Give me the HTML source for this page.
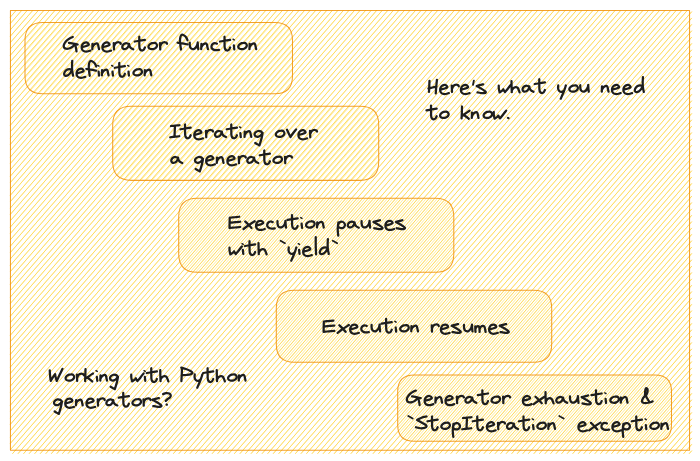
<!DOCTYPE html>
<html><head><meta charset="utf-8"><title>Python generators</title>
<style>
html,body{margin:0;padding:0;background:#fff;}
body{width:700px;height:461px;position:relative;overflow:hidden;font-family:"Liberation Sans",sans-serif;}
</style></head><body>
<svg width="700" height="461" viewBox="0 0 700 461" style="position:absolute;left:0;top:0">
<defs>
<clipPath id="c0"><path d="M42.80 22.50L274.70 22.50Q292.50 22.50 292.50 40.30L292.50 75.90Q292.50 93.70 274.70 93.70L42.80 93.70Q25.00 93.70 25.00 75.90L25.00 40.30Q25.00 22.50 42.80 22.50Z"/></clipPath>
<clipPath id="c1"><path d="M131.21 106.30L360.19 106.30Q378.70 106.30 378.70 124.81L378.70 161.84Q378.70 180.35 360.19 180.35L131.21 180.35Q112.70 180.35 112.70 161.84L112.70 124.81Q112.70 106.30 131.21 106.30Z"/></clipPath>
<clipPath id="c2"><path d="M197.20 198.30L435.30 198.30Q453.80 198.30 453.80 216.80L453.80 253.80Q453.80 272.30 435.30 272.30L197.20 272.30Q178.70 272.30 178.70 253.80L178.70 216.80Q178.70 198.30 197.20 198.30Z"/></clipPath>
<clipPath id="c3"><path d="M294.30 290.30L533.70 290.30Q551.70 290.30 551.70 308.30L551.70 344.30Q551.70 362.30 533.70 362.30L294.30 362.30Q276.30 362.30 276.30 344.30L276.30 308.30Q276.30 290.30 294.30 290.30Z"/></clipPath>
<clipPath id="c4"><path d="M414.25 375.00L654.95 375.00Q671.50 375.00 671.50 391.55L671.50 424.65Q671.50 441.20 654.95 441.20L414.25 441.20Q397.70 441.20 397.70 424.65L397.70 391.55Q397.70 375.00 414.25 375.00Z"/></clipPath>
</defs>
<path d="M10.45 10.61L10.59 10.45M10.45 16.98L16.14 10.45M10.45 23.34L21.69 10.45M10.45 29.70L27.23 10.45M10.45 36.07L32.78 10.45M10.45 42.43L38.33 10.45M10.45 48.79L43.87 10.45M10.45 55.15L49.42 10.45M10.45 61.52L54.97 10.45M10.45 67.88L60.51 10.45M10.45 74.24L66.06 10.45M10.45 80.60L71.61 10.45M10.45 86.97L77.15 10.45M10.45 93.33L82.70 10.45M10.45 99.69L88.25 10.45M10.45 106.05L93.79 10.45M10.45 112.42L99.34 10.45M10.45 118.78L104.89 10.45M10.45 125.14L110.43 10.45M10.45 131.51L115.98 10.45M10.45 137.87L121.53 10.45M10.45 144.23L127.07 10.45M10.45 150.59L132.62 10.45M10.45 156.96L138.17 10.45M10.45 163.32L143.71 10.45M10.45 169.68L149.26 10.45M10.45 176.04L154.81 10.45M10.45 182.41L160.35 10.45M10.45 188.77L165.90 10.45M10.45 195.13L171.45 10.45M10.45 201.50L176.99 10.45M10.45 207.86L182.54 10.45M10.45 214.22L188.09 10.45M10.45 220.58L193.63 10.45M10.45 226.95L199.18 10.45M10.45 233.31L204.72 10.45M10.45 239.67L210.27 10.45M10.45 246.03L215.82 10.45M10.45 252.40L221.36 10.45M10.45 258.76L226.91 10.45M10.45 265.12L232.46 10.45M10.45 271.48L238.00 10.45M10.45 277.85L243.55 10.45M10.45 284.21L249.10 10.45M10.45 290.57L254.64 10.45M10.45 296.94L260.19 10.45M10.45 303.30L265.74 10.45M10.45 309.66L271.28 10.45M10.45 316.02L276.83 10.45M10.45 322.39L282.38 10.45M10.45 328.75L287.92 10.45M10.45 335.11L293.47 10.45M10.45 341.47L299.02 10.45M10.45 347.84L304.56 10.45M10.45 354.20L310.11 10.45M10.45 360.56L315.66 10.45M10.45 366.92L321.20 10.45M10.45 373.29L326.75 10.45M10.45 379.65L332.30 10.45M10.45 386.01L337.84 10.45M10.45 392.38L343.39 10.45M10.45 398.74L348.94 10.45M10.45 405.10L354.48 10.45M10.45 411.46L360.03 10.45M10.45 417.83L365.58 10.45M10.45 424.19L371.12 10.45M10.45 430.55L376.67 10.45M10.45 436.91L382.22 10.45M10.45 443.28L387.76 10.45M10.45 449.64L393.31 10.45M12.68 453.45L398.86 10.45M18.22 453.45L404.40 10.45M23.77 453.45L409.95 10.45M29.32 453.45L415.50 10.45M34.86 453.45L421.04 10.45M40.41 453.45L426.59 10.45M45.95 453.45L432.14 10.45M51.50 453.45L437.68 10.45M57.05 453.45L443.23 10.45M62.59 453.45L448.78 10.45M68.14 453.45L454.32 10.45M73.69 453.45L459.87 10.45M79.23 453.45L465.42 10.45M84.78 453.45L470.96 10.45M90.33 453.45L476.51 10.45M95.87 453.45L482.06 10.45M101.42 453.45L487.60 10.45M106.97 453.45L493.15 10.45M112.51 453.45L498.70 10.45M118.06 453.45L504.24 10.45M123.61 453.45L509.79 10.45M129.15 453.45L515.34 10.45M134.70 453.45L520.88 10.45M140.25 453.45L526.43 10.45M145.79 453.45L531.98 10.45M151.34 453.45L537.52 10.45M156.89 453.45L543.07 10.45M162.43 453.45L548.62 10.45M167.98 453.45L554.16 10.45M173.53 453.45L559.71 10.45M179.07 453.45L565.26 10.45M184.62 453.45L570.80 10.45M190.17 453.45L576.35 10.45M195.71 453.45L581.89 10.45M201.26 453.45L587.44 10.45M206.81 453.45L592.99 10.45M212.35 453.45L598.53 10.45M217.90 453.45L604.08 10.45M223.45 453.45L609.63 10.45M228.99 453.45L615.17 10.45M234.54 453.45L620.72 10.45M240.09 453.45L626.27 10.45M245.63 453.45L631.81 10.45M251.18 453.45L637.36 10.45M256.73 453.45L642.91 10.45M262.27 453.45L648.45 10.45M267.82 453.45L654.00 10.45M273.37 453.45L659.55 10.45M278.91 453.45L665.09 10.45M284.46 453.45L670.64 10.45M290.01 453.45L676.19 10.45M295.55 453.45L681.73 10.45M301.10 453.45L687.28 10.45M306.65 453.45L691.55 11.92M312.19 453.45L691.55 18.28M317.74 453.45L691.55 24.64M323.29 453.45L691.55 31.00M328.83 453.45L691.55 37.37M334.38 453.45L691.55 43.73M339.93 453.45L691.55 50.09M345.47 453.45L691.55 56.45M351.02 453.45L691.55 62.82M356.57 453.45L691.55 69.18M362.11 453.45L691.55 75.54M367.66 453.45L691.55 81.90M373.21 453.45L691.55 88.27M378.75 453.45L691.55 94.63M384.30 453.45L691.55 100.99M389.85 453.45L691.55 107.36M395.39 453.45L691.55 113.72M400.94 453.45L691.55 120.08M406.49 453.45L691.55 126.44M412.03 453.45L691.55 132.81M417.58 453.45L691.55 139.17M423.12 453.45L691.55 145.53M428.67 453.45L691.55 151.89M434.22 453.45L691.55 158.26M439.76 453.45L691.55 164.62M445.31 453.45L691.55 170.98M450.86 453.45L691.55 177.35M456.40 453.45L691.55 183.71M461.95 453.45L691.55 190.07M467.50 453.45L691.55 196.43M473.04 453.45L691.55 202.80M478.59 453.45L691.55 209.16M484.14 453.45L691.55 215.52M489.68 453.45L691.55 221.88M495.23 453.45L691.55 228.25M500.78 453.45L691.55 234.61M506.32 453.45L691.55 240.97M511.87 453.45L691.55 247.33M517.42 453.45L691.55 253.70M522.96 453.45L691.55 260.06M528.51 453.45L691.55 266.42M534.06 453.45L691.55 272.79M539.60 453.45L691.55 279.15M545.15 453.45L691.55 285.51M550.70 453.45L691.55 291.87M556.24 453.45L691.55 298.24M561.79 453.45L691.55 304.60M567.34 453.45L691.55 310.96M572.88 453.45L691.55 317.32M578.43 453.45L691.55 323.69M583.98 453.45L691.55 330.05M589.52 453.45L691.55 336.41M595.07 453.45L691.55 342.77M600.62 453.45L691.55 349.14M606.16 453.45L691.55 355.50M611.71 453.45L691.55 361.86M617.26 453.45L691.55 368.23M622.80 453.45L691.55 374.59M628.35 453.45L691.55 380.95M633.90 453.45L691.55 387.31M639.44 453.45L691.55 393.68M644.99 453.45L691.55 400.04M650.54 453.45L691.55 406.40M656.08 453.45L691.55 412.76M661.63 453.45L691.55 419.13M667.18 453.45L691.55 425.49M672.72 453.45L691.55 431.85M678.27 453.45L691.55 438.22M683.82 453.45L691.55 444.58M689.36 453.45L691.55 450.94" fill="none" stroke="#ffd43b" stroke-width="0.57" stroke-linecap="round"/>
<path d="M10.45 10.61L10.59 10.45M10.45 16.98L16.14 10.45M10.45 23.34L21.69 10.45M10.45 29.70L27.23 10.45M10.45 36.07L32.78 10.45M10.45 42.43L38.33 10.45M10.45 48.79L43.87 10.45M10.45 55.15L49.42 10.45M10.45 61.52L54.97 10.45M10.45 67.88L60.51 10.45M10.45 74.24L66.06 10.45M10.45 80.60L71.61 10.45M10.45 86.97L77.15 10.45M10.45 93.33L82.70 10.45M10.45 99.69L88.25 10.45M10.45 106.05L93.79 10.45M10.45 112.42L99.34 10.45M10.45 118.78L104.89 10.45M10.45 125.14L110.43 10.45M10.45 131.51L115.98 10.45M10.45 137.87L121.53 10.45M10.45 144.23L127.07 10.45M10.45 150.59L132.62 10.45M10.45 156.96L138.17 10.45M10.45 163.32L143.71 10.45M10.45 169.68L149.26 10.45M10.45 176.04L154.81 10.45M10.45 182.41L160.35 10.45M10.45 188.77L165.90 10.45M10.45 195.13L171.45 10.45M10.45 201.50L176.99 10.45M10.45 207.86L182.54 10.45M10.45 214.22L188.09 10.45M10.45 220.58L193.63 10.45M10.45 226.95L199.18 10.45M10.45 233.31L204.72 10.45M10.45 239.67L210.27 10.45M10.45 246.03L215.82 10.45M10.45 252.40L221.36 10.45M10.45 258.76L226.91 10.45M10.45 265.12L232.46 10.45M10.45 271.48L238.00 10.45M10.45 277.85L243.55 10.45M10.45 284.21L249.10 10.45M10.45 290.57L254.64 10.45M10.45 296.94L260.19 10.45M10.45 303.30L265.74 10.45M10.45 309.66L271.28 10.45M10.45 316.02L276.83 10.45M10.45 322.39L282.38 10.45M10.45 328.75L287.92 10.45M10.45 335.11L293.47 10.45M10.45 341.47L299.02 10.45M10.45 347.84L304.56 10.45M10.45 354.20L310.11 10.45M10.45 360.56L315.66 10.45M10.45 366.92L321.20 10.45M10.45 373.29L326.75 10.45M10.45 379.65L332.30 10.45M10.45 386.01L337.84 10.45M10.45 392.38L343.39 10.45M10.45 398.74L348.94 10.45M10.45 405.10L354.48 10.45M10.45 411.46L360.03 10.45M10.45 417.83L365.58 10.45M10.45 424.19L371.12 10.45M10.45 430.55L376.67 10.45M10.45 436.91L382.22 10.45M10.45 443.28L387.76 10.45M10.45 449.64L393.31 10.45M12.68 453.45L398.86 10.45M18.22 453.45L404.40 10.45M23.77 453.45L409.95 10.45M29.32 453.45L415.50 10.45M34.86 453.45L421.04 10.45M40.41 453.45L426.59 10.45M45.95 453.45L432.14 10.45M51.50 453.45L437.68 10.45M57.05 453.45L443.23 10.45M62.59 453.45L448.78 10.45M68.14 453.45L454.32 10.45M73.69 453.45L459.87 10.45M79.23 453.45L465.42 10.45M84.78 453.45L470.96 10.45M90.33 453.45L476.51 10.45M95.87 453.45L482.06 10.45M101.42 453.45L487.60 10.45M106.97 453.45L493.15 10.45M112.51 453.45L498.70 10.45M118.06 453.45L504.24 10.45M123.61 453.45L509.79 10.45M129.15 453.45L515.34 10.45M134.70 453.45L520.88 10.45M140.25 453.45L526.43 10.45M145.79 453.45L531.98 10.45M151.34 453.45L537.52 10.45M156.89 453.45L543.07 10.45M162.43 453.45L548.62 10.45M167.98 453.45L554.16 10.45M173.53 453.45L559.71 10.45M179.07 453.45L565.26 10.45M184.62 453.45L570.80 10.45M190.17 453.45L576.35 10.45M195.71 453.45L581.89 10.45M201.26 453.45L587.44 10.45M206.81 453.45L592.99 10.45M212.35 453.45L598.53 10.45M217.90 453.45L604.08 10.45M223.45 453.45L609.63 10.45M228.99 453.45L615.17 10.45M234.54 453.45L620.72 10.45M240.09 453.45L626.27 10.45M245.63 453.45L631.81 10.45M251.18 453.45L637.36 10.45M256.73 453.45L642.91 10.45M262.27 453.45L648.45 10.45M267.82 453.45L654.00 10.45M273.37 453.45L659.55 10.45M278.91 453.45L665.09 10.45M284.46 453.45L670.64 10.45M290.01 453.45L676.19 10.45M295.55 453.45L681.73 10.45M301.10 453.45L687.28 10.45M306.65 453.45L691.55 11.92M312.19 453.45L691.55 18.28M317.74 453.45L691.55 24.64M323.29 453.45L691.55 31.00M328.83 453.45L691.55 37.37M334.38 453.45L691.55 43.73M339.93 453.45L691.55 50.09M345.47 453.45L691.55 56.45M351.02 453.45L691.55 62.82M356.57 453.45L691.55 69.18M362.11 453.45L691.55 75.54M367.66 453.45L691.55 81.90M373.21 453.45L691.55 88.27M378.75 453.45L691.55 94.63M384.30 453.45L691.55 100.99M389.85 453.45L691.55 107.36M395.39 453.45L691.55 113.72M400.94 453.45L691.55 120.08M406.49 453.45L691.55 126.44M412.03 453.45L691.55 132.81M417.58 453.45L691.55 139.17M423.12 453.45L691.55 145.53M428.67 453.45L691.55 151.89M434.22 453.45L691.55 158.26M439.76 453.45L691.55 164.62M445.31 453.45L691.55 170.98M450.86 453.45L691.55 177.35M456.40 453.45L691.55 183.71M461.95 453.45L691.55 190.07M467.50 453.45L691.55 196.43M473.04 453.45L691.55 202.80M478.59 453.45L691.55 209.16M484.14 453.45L691.55 215.52M489.68 453.45L691.55 221.88M495.23 453.45L691.55 228.25M500.78 453.45L691.55 234.61M506.32 453.45L691.55 240.97M511.87 453.45L691.55 247.33M517.42 453.45L691.55 253.70M522.96 453.45L691.55 260.06M528.51 453.45L691.55 266.42M534.06 453.45L691.55 272.79M539.60 453.45L691.55 279.15M545.15 453.45L691.55 285.51M550.70 453.45L691.55 291.87M556.24 453.45L691.55 298.24M561.79 453.45L691.55 304.60M567.34 453.45L691.55 310.96M572.88 453.45L691.55 317.32M578.43 453.45L691.55 323.69M583.98 453.45L691.55 330.05M589.52 453.45L691.55 336.41M595.07 453.45L691.55 342.77M600.62 453.45L691.55 349.14M606.16 453.45L691.55 355.50M611.71 453.45L691.55 361.86M617.26 453.45L691.55 368.23M622.80 453.45L691.55 374.59M628.35 453.45L691.55 380.95M633.90 453.45L691.55 387.31M639.44 453.45L691.55 393.68M644.99 453.45L691.55 400.04M650.54 453.45L691.55 406.40M656.08 453.45L691.55 412.76M661.63 453.45L691.55 419.13M667.18 453.45L691.55 425.49M672.72 453.45L691.55 431.85M678.27 453.45L691.55 438.22M683.82 453.45L691.55 444.58M689.36 453.45L691.55 450.94" fill="none" stroke="#ffd43b" stroke-width="0.57" stroke-linecap="round"/>
<path d="M10.45 10.45L689.55 10.45L689.55 450.25L10.45 450.25Z" fill="none" stroke="#f08c00" stroke-width="1.05" stroke-opacity="0.82" stroke-linejoin="round"/>
<path clip-path="url(#c0)" d="M25.00 26.80L28.75 22.50M25.00 33.17L34.30 22.50M25.00 39.53L39.84 22.50M25.00 45.89L45.39 22.50M25.00 52.25L50.94 22.50M25.00 58.62L56.48 22.50M25.00 64.98L62.03 22.50M25.00 71.34L67.58 22.50M25.00 77.70L73.12 22.50M25.00 84.07L78.67 22.50M25.00 90.43L84.22 22.50M27.70 93.70L89.76 22.50M33.24 93.70L95.31 22.50M38.79 93.70L100.86 22.50M44.34 93.70L106.40 22.50M49.88 93.70L111.95 22.50M55.43 93.70L117.50 22.50M60.98 93.70L123.04 22.50M66.52 93.70L128.59 22.50M72.07 93.70L134.14 22.50M77.61 93.70L139.68 22.50M83.16 93.70L145.23 22.50M88.71 93.70L150.78 22.50M94.25 93.70L156.32 22.50M99.80 93.70L161.87 22.50M105.35 93.70L167.42 22.50M110.89 93.70L172.96 22.50M116.44 93.70L178.51 22.50M121.99 93.70L184.06 22.50M127.53 93.70L189.60 22.50M133.08 93.70L195.15 22.50M138.63 93.70L200.70 22.50M144.17 93.70L206.24 22.50M149.72 93.70L211.79 22.50M155.27 93.70L217.34 22.50M160.81 93.70L222.88 22.50M166.36 93.70L228.43 22.50M171.91 93.70L233.98 22.50M177.45 93.70L239.52 22.50M183.00 93.70L245.07 22.50M188.55 93.70L250.62 22.50M194.09 93.70L256.16 22.50M199.64 93.70L261.71 22.50M205.19 93.70L267.26 22.50M210.73 93.70L272.80 22.50M216.28 93.70L278.35 22.50M221.83 93.70L283.89 22.50M227.37 93.70L289.44 22.50M232.92 93.70L292.50 25.35M238.47 93.70L292.50 31.72M244.01 93.70L292.50 38.08M249.56 93.70L292.50 44.44M255.11 93.70L292.50 50.81M260.65 93.70L292.50 57.17M266.20 93.70L292.50 63.53M271.75 93.70L292.50 69.89M277.29 93.70L292.50 76.26M282.84 93.70L292.50 82.62M288.39 93.70L292.50 88.98" fill="none" stroke="#ffec99" stroke-width="0.57"/>
<path clip-path="url(#c0)" d="M25.00 26.80L28.75 22.50M25.00 33.17L34.30 22.50M25.00 39.53L39.84 22.50M25.00 45.89L45.39 22.50M25.00 52.25L50.94 22.50M25.00 58.62L56.48 22.50M25.00 64.98L62.03 22.50M25.00 71.34L67.58 22.50M25.00 77.70L73.12 22.50M25.00 84.07L78.67 22.50M25.00 90.43L84.22 22.50M27.70 93.70L89.76 22.50M33.24 93.70L95.31 22.50M38.79 93.70L100.86 22.50M44.34 93.70L106.40 22.50M49.88 93.70L111.95 22.50M55.43 93.70L117.50 22.50M60.98 93.70L123.04 22.50M66.52 93.70L128.59 22.50M72.07 93.70L134.14 22.50M77.61 93.70L139.68 22.50M83.16 93.70L145.23 22.50M88.71 93.70L150.78 22.50M94.25 93.70L156.32 22.50M99.80 93.70L161.87 22.50M105.35 93.70L167.42 22.50M110.89 93.70L172.96 22.50M116.44 93.70L178.51 22.50M121.99 93.70L184.06 22.50M127.53 93.70L189.60 22.50M133.08 93.70L195.15 22.50M138.63 93.70L200.70 22.50M144.17 93.70L206.24 22.50M149.72 93.70L211.79 22.50M155.27 93.70L217.34 22.50M160.81 93.70L222.88 22.50M166.36 93.70L228.43 22.50M171.91 93.70L233.98 22.50M177.45 93.70L239.52 22.50M183.00 93.70L245.07 22.50M188.55 93.70L250.62 22.50M194.09 93.70L256.16 22.50M199.64 93.70L261.71 22.50M205.19 93.70L267.26 22.50M210.73 93.70L272.80 22.50M216.28 93.70L278.35 22.50M221.83 93.70L283.89 22.50M227.37 93.70L289.44 22.50M232.92 93.70L292.50 25.35M238.47 93.70L292.50 31.72M244.01 93.70L292.50 38.08M249.56 93.70L292.50 44.44M255.11 93.70L292.50 50.81M260.65 93.70L292.50 57.17M266.20 93.70L292.50 63.53M271.75 93.70L292.50 69.89M277.29 93.70L292.50 76.26M282.84 93.70L292.50 82.62M288.39 93.70L292.50 88.98" fill="none" stroke="#ffec99" stroke-width="0.57"/>
<path d="M42.80 22.50L274.70 22.50Q292.50 22.50 292.50 40.30L292.50 75.90Q292.50 93.70 274.70 93.70L42.80 93.70Q25.00 93.70 25.00 75.90L25.00 40.30Q25.00 22.50 42.80 22.50Z" fill="none" stroke="#f08c00" stroke-width="1.05" stroke-opacity="0.82"/>
<path clip-path="url(#c1)" d="M112.70 110.93L116.74 106.30M112.70 117.29L122.28 106.30M112.70 123.66L127.83 106.30M112.70 130.02L133.38 106.30M112.70 136.38L138.92 106.30M112.70 142.74L144.47 106.30M112.70 149.11L150.02 106.30M112.70 155.47L155.56 106.30M112.70 161.83L161.11 106.30M112.70 168.19L166.66 106.30M112.70 174.56L172.20 106.30M113.20 180.35L177.75 106.30M118.74 180.35L183.30 106.30M124.29 180.35L188.84 106.30M129.84 180.35L194.39 106.30M135.38 180.35L199.94 106.30M140.93 180.35L205.48 106.30M146.48 180.35L211.03 106.30M152.02 180.35L216.58 106.30M157.57 180.35L222.12 106.30M163.12 180.35L227.67 106.30M168.66 180.35L233.22 106.30M174.21 180.35L238.76 106.30M179.76 180.35L244.31 106.30M185.30 180.35L249.86 106.30M190.85 180.35L255.40 106.30M196.40 180.35L260.95 106.30M201.94 180.35L266.49 106.30M207.49 180.35L272.04 106.30M213.04 180.35L277.59 106.30M218.58 180.35L283.13 106.30M224.13 180.35L288.68 106.30M229.68 180.35L294.23 106.30M235.22 180.35L299.77 106.30M240.77 180.35L305.32 106.30M246.32 180.35L310.87 106.30M251.86 180.35L316.41 106.30M257.41 180.35L321.96 106.30M262.96 180.35L327.51 106.30M268.50 180.35L333.05 106.30M274.05 180.35L338.60 106.30M279.60 180.35L344.15 106.30M285.14 180.35L349.69 106.30M290.69 180.35L355.24 106.30M296.24 180.35L360.79 106.30M301.78 180.35L366.33 106.30M307.33 180.35L371.88 106.30M312.87 180.35L377.43 106.30M318.42 180.35L378.70 111.20M323.97 180.35L378.70 117.57M329.51 180.35L378.70 123.93M335.06 180.35L378.70 130.29M340.61 180.35L378.70 136.65M346.15 180.35L378.70 143.02M351.70 180.35L378.70 149.38M357.25 180.35L378.70 155.74M362.79 180.35L378.70 162.10M368.34 180.35L378.70 168.47M373.89 180.35L378.70 174.83" fill="none" stroke="#ffec99" stroke-width="0.57"/>
<path clip-path="url(#c1)" d="M112.70 110.93L116.74 106.30M112.70 117.29L122.28 106.30M112.70 123.66L127.83 106.30M112.70 130.02L133.38 106.30M112.70 136.38L138.92 106.30M112.70 142.74L144.47 106.30M112.70 149.11L150.02 106.30M112.70 155.47L155.56 106.30M112.70 161.83L161.11 106.30M112.70 168.19L166.66 106.30M112.70 174.56L172.20 106.30M113.20 180.35L177.75 106.30M118.74 180.35L183.30 106.30M124.29 180.35L188.84 106.30M129.84 180.35L194.39 106.30M135.38 180.35L199.94 106.30M140.93 180.35L205.48 106.30M146.48 180.35L211.03 106.30M152.02 180.35L216.58 106.30M157.57 180.35L222.12 106.30M163.12 180.35L227.67 106.30M168.66 180.35L233.22 106.30M174.21 180.35L238.76 106.30M179.76 180.35L244.31 106.30M185.30 180.35L249.86 106.30M190.85 180.35L255.40 106.30M196.40 180.35L260.95 106.30M201.94 180.35L266.49 106.30M207.49 180.35L272.04 106.30M213.04 180.35L277.59 106.30M218.58 180.35L283.13 106.30M224.13 180.35L288.68 106.30M229.68 180.35L294.23 106.30M235.22 180.35L299.77 106.30M240.77 180.35L305.32 106.30M246.32 180.35L310.87 106.30M251.86 180.35L316.41 106.30M257.41 180.35L321.96 106.30M262.96 180.35L327.51 106.30M268.50 180.35L333.05 106.30M274.05 180.35L338.60 106.30M279.60 180.35L344.15 106.30M285.14 180.35L349.69 106.30M290.69 180.35L355.24 106.30M296.24 180.35L360.79 106.30M301.78 180.35L366.33 106.30M307.33 180.35L371.88 106.30M312.87 180.35L377.43 106.30M318.42 180.35L378.70 111.20M323.97 180.35L378.70 117.57M329.51 180.35L378.70 123.93M335.06 180.35L378.70 130.29M340.61 180.35L378.70 136.65M346.15 180.35L378.70 143.02M351.70 180.35L378.70 149.38M357.25 180.35L378.70 155.74M362.79 180.35L378.70 162.10M368.34 180.35L378.70 168.47M373.89 180.35L378.70 174.83" fill="none" stroke="#ffec99" stroke-width="0.57"/>
<path d="M131.21 106.30L360.19 106.30Q378.70 106.30 378.70 124.81L378.70 161.84Q378.70 180.35 360.19 180.35L131.21 180.35Q112.70 180.35 112.70 161.84L112.70 124.81Q112.70 106.30 131.21 106.30Z" fill="none" stroke="#f08c00" stroke-width="1.05" stroke-opacity="0.82"/>
<path clip-path="url(#c2)" d="M178.70 202.55L182.41 198.30M178.70 208.91L187.95 198.30M178.70 215.28L193.50 198.30M178.70 221.64L199.05 198.30M178.70 228.00L204.59 198.30M178.70 234.37L210.14 198.30M178.70 240.73L215.69 198.30M178.70 247.09L221.23 198.30M178.70 253.45L226.78 198.30M178.70 259.82L232.33 198.30M178.70 266.18L237.87 198.30M178.91 272.30L243.42 198.30M184.46 272.30L248.97 198.30M190.00 272.30L254.51 198.30M195.55 272.30L260.06 198.30M201.10 272.30L265.61 198.30M206.64 272.30L271.15 198.30M212.19 272.30L276.70 198.30M217.74 272.30L282.25 198.30M223.28 272.30L287.79 198.30M228.83 272.30L293.34 198.30M234.38 272.30L298.89 198.30M239.92 272.30L304.43 198.30M245.47 272.30L309.98 198.30M251.02 272.30L315.53 198.30M256.56 272.30L321.07 198.30M262.11 272.30L326.62 198.30M267.66 272.30L332.17 198.30M273.20 272.30L337.71 198.30M278.75 272.30L343.26 198.30M284.30 272.30L348.80 198.30M289.84 272.30L354.35 198.30M295.39 272.30L359.90 198.30M300.94 272.30L365.44 198.30M306.48 272.30L370.99 198.30M312.03 272.30L376.54 198.30M317.58 272.30L382.08 198.30M323.12 272.30L387.63 198.30M328.67 272.30L393.18 198.30M334.22 272.30L398.72 198.30M339.76 272.30L404.27 198.30M345.31 272.30L409.82 198.30M350.86 272.30L415.36 198.30M356.40 272.30L420.91 198.30M361.95 272.30L426.46 198.30M367.50 272.30L432.00 198.30M373.04 272.30L437.55 198.30M378.59 272.30L443.10 198.30M384.14 272.30L448.64 198.30M389.68 272.30L453.80 198.75M395.23 272.30L453.80 205.11M400.78 272.30L453.80 211.47M406.32 272.30L453.80 217.84M411.87 272.30L453.80 224.20M417.41 272.30L453.80 230.56M422.96 272.30L453.80 236.92M428.51 272.30L453.80 243.29M434.05 272.30L453.80 249.65M439.60 272.30L453.80 256.01M445.15 272.30L453.80 262.38M450.69 272.30L453.80 268.74" fill="none" stroke="#ffec99" stroke-width="0.57"/>
<path clip-path="url(#c2)" d="M178.70 202.55L182.41 198.30M178.70 208.91L187.95 198.30M178.70 215.28L193.50 198.30M178.70 221.64L199.05 198.30M178.70 228.00L204.59 198.30M178.70 234.37L210.14 198.30M178.70 240.73L215.69 198.30M178.70 247.09L221.23 198.30M178.70 253.45L226.78 198.30M178.70 259.82L232.33 198.30M178.70 266.18L237.87 198.30M178.91 272.30L243.42 198.30M184.46 272.30L248.97 198.30M190.00 272.30L254.51 198.30M195.55 272.30L260.06 198.30M201.10 272.30L265.61 198.30M206.64 272.30L271.15 198.30M212.19 272.30L276.70 198.30M217.74 272.30L282.25 198.30M223.28 272.30L287.79 198.30M228.83 272.30L293.34 198.30M234.38 272.30L298.89 198.30M239.92 272.30L304.43 198.30M245.47 272.30L309.98 198.30M251.02 272.30L315.53 198.30M256.56 272.30L321.07 198.30M262.11 272.30L326.62 198.30M267.66 272.30L332.17 198.30M273.20 272.30L337.71 198.30M278.75 272.30L343.26 198.30M284.30 272.30L348.80 198.30M289.84 272.30L354.35 198.30M295.39 272.30L359.90 198.30M300.94 272.30L365.44 198.30M306.48 272.30L370.99 198.30M312.03 272.30L376.54 198.30M317.58 272.30L382.08 198.30M323.12 272.30L387.63 198.30M328.67 272.30L393.18 198.30M334.22 272.30L398.72 198.30M339.76 272.30L404.27 198.30M345.31 272.30L409.82 198.30M350.86 272.30L415.36 198.30M356.40 272.30L420.91 198.30M361.95 272.30L426.46 198.30M367.50 272.30L432.00 198.30M373.04 272.30L437.55 198.30M378.59 272.30L443.10 198.30M384.14 272.30L448.64 198.30M389.68 272.30L453.80 198.75M395.23 272.30L453.80 205.11M400.78 272.30L453.80 211.47M406.32 272.30L453.80 217.84M411.87 272.30L453.80 224.20M417.41 272.30L453.80 230.56M422.96 272.30L453.80 236.92M428.51 272.30L453.80 243.29M434.05 272.30L453.80 249.65M439.60 272.30L453.80 256.01M445.15 272.30L453.80 262.38M450.69 272.30L453.80 268.74" fill="none" stroke="#ffec99" stroke-width="0.57"/>
<path d="M197.20 198.30L435.30 198.30Q453.80 198.30 453.80 216.80L453.80 253.80Q453.80 272.30 435.30 272.30L197.20 272.30Q178.70 272.30 178.70 253.80L178.70 216.80Q178.70 198.30 197.20 198.30Z" fill="none" stroke="#f08c00" stroke-width="1.05" stroke-opacity="0.82"/>
<path clip-path="url(#c3)" d="M276.30 294.20L279.70 290.30M276.30 300.56L285.24 290.30M276.30 306.92L290.79 290.30M276.30 313.29L296.34 290.30M276.30 319.65L301.88 290.30M276.30 326.01L307.43 290.30M276.30 332.37L312.98 290.30M276.30 338.74L318.52 290.30M276.30 345.10L324.07 290.30M276.30 351.46L329.62 290.30M276.30 357.82L335.16 290.30M277.95 362.30L340.71 290.30M283.49 362.30L346.26 290.30M289.04 362.30L351.80 290.30M294.59 362.30L357.35 290.30M300.13 362.30L362.90 290.30M305.68 362.30L368.44 290.30M311.23 362.30L373.99 290.30M316.77 362.30L379.54 290.30M322.32 362.30L385.08 290.30M327.86 362.30L390.63 290.30M333.41 362.30L396.18 290.30M338.96 362.30L401.72 290.30M344.50 362.30L407.27 290.30M350.05 362.30L412.82 290.30M355.60 362.30L418.36 290.30M361.14 362.30L423.91 290.30M366.69 362.30L429.46 290.30M372.24 362.30L435.00 290.30M377.78 362.30L440.55 290.30M383.33 362.30L446.10 290.30M388.88 362.30L451.64 290.30M394.42 362.30L457.19 290.30M399.97 362.30L462.74 290.30M405.52 362.30L468.28 290.30M411.06 362.30L473.83 290.30M416.61 362.30L479.38 290.30M422.16 362.30L484.92 290.30M427.70 362.30L490.47 290.30M433.25 362.30L496.02 290.30M438.80 362.30L501.56 290.30M444.34 362.30L507.11 290.30M449.89 362.30L512.66 290.30M455.44 362.30L518.20 290.30M460.98 362.30L523.75 290.30M466.53 362.30L529.30 290.30M472.08 362.30L534.84 290.30M477.62 362.30L540.39 290.30M483.17 362.30L545.94 290.30M488.72 362.30L551.48 290.30M494.26 362.30L551.70 296.41M499.81 362.30L551.70 302.78M505.36 362.30L551.70 309.14M510.90 362.30L551.70 315.50M516.45 362.30L551.70 321.86M522.00 362.30L551.70 328.23M527.54 362.30L551.70 334.59M533.09 362.30L551.70 340.95M538.64 362.30L551.70 347.31M544.18 362.30L551.70 353.68M549.73 362.30L551.70 360.04" fill="none" stroke="#ffec99" stroke-width="0.57"/>
<path clip-path="url(#c3)" d="M276.30 294.20L279.70 290.30M276.30 300.56L285.24 290.30M276.30 306.92L290.79 290.30M276.30 313.29L296.34 290.30M276.30 319.65L301.88 290.30M276.30 326.01L307.43 290.30M276.30 332.37L312.98 290.30M276.30 338.74L318.52 290.30M276.30 345.10L324.07 290.30M276.30 351.46L329.62 290.30M276.30 357.82L335.16 290.30M277.95 362.30L340.71 290.30M283.49 362.30L346.26 290.30M289.04 362.30L351.80 290.30M294.59 362.30L357.35 290.30M300.13 362.30L362.90 290.30M305.68 362.30L368.44 290.30M311.23 362.30L373.99 290.30M316.77 362.30L379.54 290.30M322.32 362.30L385.08 290.30M327.86 362.30L390.63 290.30M333.41 362.30L396.18 290.30M338.96 362.30L401.72 290.30M344.50 362.30L407.27 290.30M350.05 362.30L412.82 290.30M355.60 362.30L418.36 290.30M361.14 362.30L423.91 290.30M366.69 362.30L429.46 290.30M372.24 362.30L435.00 290.30M377.78 362.30L440.55 290.30M383.33 362.30L446.10 290.30M388.88 362.30L451.64 290.30M394.42 362.30L457.19 290.30M399.97 362.30L462.74 290.30M405.52 362.30L468.28 290.30M411.06 362.30L473.83 290.30M416.61 362.30L479.38 290.30M422.16 362.30L484.92 290.30M427.70 362.30L490.47 290.30M433.25 362.30L496.02 290.30M438.80 362.30L501.56 290.30M444.34 362.30L507.11 290.30M449.89 362.30L512.66 290.30M455.44 362.30L518.20 290.30M460.98 362.30L523.75 290.30M466.53 362.30L529.30 290.30M472.08 362.30L534.84 290.30M477.62 362.30L540.39 290.30M483.17 362.30L545.94 290.30M488.72 362.30L551.48 290.30M494.26 362.30L551.70 296.41M499.81 362.30L551.70 302.78M505.36 362.30L551.70 309.14M510.90 362.30L551.70 315.50M516.45 362.30L551.70 321.86M522.00 362.30L551.70 328.23M527.54 362.30L551.70 334.59M533.09 362.30L551.70 340.95M538.64 362.30L551.70 347.31M544.18 362.30L551.70 353.68M549.73 362.30L551.70 360.04" fill="none" stroke="#ffec99" stroke-width="0.57"/>
<path d="M294.30 290.30L533.70 290.30Q551.70 290.30 551.70 308.30L551.70 344.30Q551.70 362.30 533.70 362.30L294.30 362.30Q276.30 362.30 276.30 344.30L276.30 308.30Q276.30 290.30 294.30 290.30Z" fill="none" stroke="#f08c00" stroke-width="1.05" stroke-opacity="0.82"/>
<path clip-path="url(#c4)" d="M397.70 377.49L399.87 375.00M397.70 383.86L405.42 375.00M397.70 390.22L410.97 375.00M397.70 396.58L416.51 375.00M397.70 402.94L422.06 375.00M397.70 409.31L427.61 375.00M397.70 415.67L433.15 375.00M397.70 422.03L438.70 375.00M397.70 428.40L444.25 375.00M397.70 434.76L449.79 375.00M397.70 441.12L455.34 375.00M403.18 441.20L460.89 375.00M408.72 441.20L466.43 375.00M414.27 441.20L471.98 375.00M419.82 441.20L477.53 375.00M425.36 441.20L483.07 375.00M430.91 441.20L488.62 375.00M436.46 441.20L494.17 375.00M442.00 441.20L499.71 375.00M447.55 441.20L505.26 375.00M453.10 441.20L510.81 375.00M458.64 441.20L516.35 375.00M464.19 441.20L521.90 375.00M469.74 441.20L527.45 375.00M475.28 441.20L532.99 375.00M480.83 441.20L538.54 375.00M486.38 441.20L544.09 375.00M491.92 441.20L549.63 375.00M497.47 441.20L555.18 375.00M503.02 441.20L560.73 375.00M508.56 441.20L566.27 375.00M514.11 441.20L571.82 375.00M519.66 441.20L577.37 375.00M525.20 441.20L582.91 375.00M530.75 441.20L588.46 375.00M536.30 441.20L594.01 375.00M541.84 441.20L599.55 375.00M547.39 441.20L605.10 375.00M552.94 441.20L610.65 375.00M558.48 441.20L616.19 375.00M564.03 441.20L621.74 375.00M569.58 441.20L627.29 375.00M575.12 441.20L632.83 375.00M580.67 441.20L638.38 375.00M586.22 441.20L643.92 375.00M591.76 441.20L649.47 375.00M597.31 441.20L655.02 375.00M602.86 441.20L660.56 375.00M608.40 441.20L666.11 375.00M613.95 441.20L671.50 375.18M619.50 441.20L671.50 381.54M625.04 441.20L671.50 387.91M630.59 441.20L671.50 394.27M636.14 441.20L671.50 400.63M641.68 441.20L671.50 406.99M647.23 441.20L671.50 413.36M652.78 441.20L671.50 419.72M658.32 441.20L671.50 426.08M663.87 441.20L671.50 432.45M669.41 441.20L671.50 438.81" fill="none" stroke="#ffec99" stroke-width="0.57"/>
<path clip-path="url(#c4)" d="M397.70 377.49L399.87 375.00M397.70 383.86L405.42 375.00M397.70 390.22L410.97 375.00M397.70 396.58L416.51 375.00M397.70 402.94L422.06 375.00M397.70 409.31L427.61 375.00M397.70 415.67L433.15 375.00M397.70 422.03L438.70 375.00M397.70 428.40L444.25 375.00M397.70 434.76L449.79 375.00M397.70 441.12L455.34 375.00M403.18 441.20L460.89 375.00M408.72 441.20L466.43 375.00M414.27 441.20L471.98 375.00M419.82 441.20L477.53 375.00M425.36 441.20L483.07 375.00M430.91 441.20L488.62 375.00M436.46 441.20L494.17 375.00M442.00 441.20L499.71 375.00M447.55 441.20L505.26 375.00M453.10 441.20L510.81 375.00M458.64 441.20L516.35 375.00M464.19 441.20L521.90 375.00M469.74 441.20L527.45 375.00M475.28 441.20L532.99 375.00M480.83 441.20L538.54 375.00M486.38 441.20L544.09 375.00M491.92 441.20L549.63 375.00M497.47 441.20L555.18 375.00M503.02 441.20L560.73 375.00M508.56 441.20L566.27 375.00M514.11 441.20L571.82 375.00M519.66 441.20L577.37 375.00M525.20 441.20L582.91 375.00M530.75 441.20L588.46 375.00M536.30 441.20L594.01 375.00M541.84 441.20L599.55 375.00M547.39 441.20L605.10 375.00M552.94 441.20L610.65 375.00M558.48 441.20L616.19 375.00M564.03 441.20L621.74 375.00M569.58 441.20L627.29 375.00M575.12 441.20L632.83 375.00M580.67 441.20L638.38 375.00M586.22 441.20L643.92 375.00M591.76 441.20L649.47 375.00M597.31 441.20L655.02 375.00M602.86 441.20L660.56 375.00M608.40 441.20L666.11 375.00M613.95 441.20L671.50 375.18M619.50 441.20L671.50 381.54M625.04 441.20L671.50 387.91M630.59 441.20L671.50 394.27M636.14 441.20L671.50 400.63M641.68 441.20L671.50 406.99M647.23 441.20L671.50 413.36M652.78 441.20L671.50 419.72M658.32 441.20L671.50 426.08M663.87 441.20L671.50 432.45M669.41 441.20L671.50 438.81" fill="none" stroke="#ffec99" stroke-width="0.57"/>
<path d="M414.25 375.00L654.95 375.00Q671.50 375.00 671.50 391.55L671.50 424.65Q671.50 441.20 654.95 441.20L414.25 441.20Q397.70 441.20 397.70 424.65L397.70 391.55Q397.70 375.00 414.25 375.00Z" fill="none" stroke="#f08c00" stroke-width="1.05" stroke-opacity="0.82"/>
<path d="M72.75 37.00C72.29 37.21 70.96 37.71 70.00 38.25C69.04 38.79 67.88 39.46 67.00 40.25C66.12 41.04 65.29 42.12 64.75 43.00C64.21 43.88 63.83 44.71 63.75 45.50C63.67 46.29 63.83 47.21 64.25 47.75C64.67 48.29 65.46 48.62 66.25 48.75C67.04 48.88 68.08 48.75 69.00 48.50C69.92 48.25 70.92 47.79 71.75 47.25C72.58 46.71 73.46 45.79 74.00 45.25C74.54 44.71 74.83 44.21 75.00 44.00M69.00 42.80C69.50 42.88 71.00 43.12 72.00 43.30C73.00 43.48 74.07 43.70 75.00 43.90C75.93 44.10 77.17 44.40 77.60 44.50M75.25 44.10C75.33 44.58 75.58 46.10 75.75 47.00C75.92 47.90 76.12 48.77 76.25 49.50C76.38 50.23 76.46 51.08 76.50 51.40M82.25 47.00C82.79 46.88 84.43 46.60 85.50 46.25C86.57 45.90 88.19 45.38 88.65 44.90C89.11 44.42 88.61 43.82 88.25 43.40C87.89 42.98 87.21 42.48 86.50 42.40C85.79 42.32 84.71 42.51 84.00 42.90C83.29 43.29 82.64 44.02 82.25 44.75C81.86 45.48 81.65 46.42 81.65 47.25C81.65 48.08 81.82 49.08 82.25 49.75C82.68 50.42 83.42 51.01 84.25 51.30C85.08 51.59 86.23 51.62 87.25 51.50C88.27 51.38 89.83 50.75 90.35 50.60M92.50 43.90C92.48 44.33 92.43 45.63 92.40 46.50C92.37 47.37 92.32 48.67 92.30 49.10M92.40 47.60C92.57 47.25 92.97 46.10 93.40 45.50C93.83 44.90 94.42 44.35 95.00 44.00C95.58 43.65 96.40 43.32 96.90 43.40C97.40 43.48 97.73 43.94 98.00 44.50C98.27 45.06 98.33 45.98 98.50 46.75C98.67 47.52 98.92 48.71 99.00 49.10M103.00 47.00C103.54 46.88 105.18 46.60 106.25 46.25C107.32 45.90 108.94 45.38 109.40 44.90C109.86 44.42 109.36 43.82 109.00 43.40C108.64 42.98 107.96 42.48 107.25 42.40C106.54 42.32 105.46 42.51 104.75 42.90C104.04 43.29 103.39 44.02 103.00 44.75C102.61 45.48 102.40 46.42 102.40 47.25C102.40 48.08 102.57 49.08 103.00 49.75C103.43 50.42 104.17 51.01 105.00 51.30C105.83 51.59 106.98 51.62 108.00 51.50C109.02 51.38 110.58 50.75 111.10 50.60M113.75 43.10C113.78 43.67 113.86 45.43 113.90 46.50C113.94 47.57 113.98 49.00 114.00 49.50M114.00 46.40C114.17 46.00 114.56 44.63 115.00 44.00C115.44 43.37 116.02 42.89 116.65 42.60C117.27 42.31 118.17 42.23 118.75 42.25C119.33 42.27 119.82 42.50 120.15 42.75C120.48 43.00 120.65 43.58 120.75 43.75M128.75 44.00C128.39 43.88 127.34 43.28 126.60 43.25C125.86 43.22 124.94 43.44 124.30 43.80C123.66 44.16 123.08 44.82 122.75 45.40C122.42 45.98 122.22 46.70 122.30 47.25C122.38 47.80 122.73 48.41 123.20 48.70C123.67 48.99 124.47 49.10 125.10 49.00C125.73 48.90 126.45 48.56 127.00 48.10C127.55 47.64 128.05 46.89 128.40 46.25C128.75 45.61 128.98 44.58 129.10 44.25M129.10 44.00C129.18 44.38 129.28 45.57 129.60 46.25C129.92 46.93 130.39 47.60 131.00 48.10C131.61 48.60 132.88 49.06 133.25 49.25M139.25 36.75C139.26 37.62 139.28 40.29 139.30 42.00C139.33 43.71 139.28 45.79 139.40 47.00C139.52 48.21 139.61 48.67 140.00 49.25C140.39 49.83 141.12 50.42 141.75 50.50C142.38 50.58 143.22 50.25 143.75 49.75C144.28 49.25 144.71 47.88 144.90 47.50M134.75 41.50C135.54 41.38 137.81 41.02 139.50 40.75C141.19 40.48 144.00 40.04 144.90 39.90M154.85 42.90C154.35 42.93 152.72 42.83 151.85 43.10C150.97 43.37 150.17 43.93 149.60 44.50C149.03 45.07 148.53 45.88 148.45 46.50C148.37 47.12 148.62 47.81 149.10 48.25C149.58 48.69 150.47 49.07 151.35 49.15C152.22 49.23 153.52 49.07 154.35 48.75C155.18 48.43 155.91 47.83 156.35 47.25C156.79 46.67 157.04 45.88 157.00 45.25C156.96 44.62 156.58 43.90 156.10 43.50C155.62 43.10 154.43 42.96 154.10 42.85M160.00 43.10C160.03 43.67 160.11 45.43 160.15 46.50C160.19 47.57 160.23 49.00 160.25 49.50M160.25 46.40C160.42 46.00 160.81 44.63 161.25 44.00C161.69 43.37 162.28 42.89 162.90 42.60C163.53 42.31 164.42 42.23 165.00 42.25C165.58 42.27 166.07 42.50 166.40 42.75C166.73 43.00 166.90 43.58 167.00 43.75M187.50 40.25C187.29 39.79 186.83 38.31 186.25 37.50C185.67 36.69 184.75 35.86 184.00 35.40C183.25 34.94 182.35 34.48 181.75 34.75C181.15 35.02 180.69 35.96 180.40 37.00C180.11 38.04 180.00 39.58 180.00 41.00C180.00 42.42 180.23 44.08 180.40 45.50C180.57 46.92 180.90 48.83 181.00 49.50M177.60 42.75C178.33 42.86 180.37 43.12 182.00 43.40C183.63 43.67 186.50 44.23 187.40 44.40M189.75 42.75C189.76 43.21 189.66 44.64 189.80 45.50C189.94 46.36 190.19 47.32 190.60 47.90C191.01 48.48 191.62 48.87 192.25 49.00C192.88 49.13 193.71 49.08 194.40 48.70C195.09 48.33 195.90 47.49 196.40 46.75C196.90 46.01 197.18 44.92 197.40 44.25C197.62 43.58 197.65 43.00 197.70 42.75M197.70 42.50C197.73 43.08 197.81 44.88 197.90 46.00C197.99 47.12 198.19 48.71 198.25 49.25M201.40 43.90C201.38 44.33 201.33 45.63 201.30 46.50C201.27 47.37 201.22 48.67 201.20 49.10M201.30 47.60C201.47 47.25 201.87 46.10 202.30 45.50C202.73 44.90 203.32 44.35 203.90 44.00C204.48 43.65 205.30 43.32 205.80 43.40C206.30 43.48 206.63 43.94 206.90 44.50C207.17 45.06 207.23 45.98 207.40 46.75C207.57 47.52 207.82 48.71 207.90 49.10M216.90 43.75C216.57 43.64 215.59 43.08 214.90 43.10C214.21 43.12 213.32 43.40 212.75 43.90C212.18 44.40 211.62 45.33 211.50 46.10C211.38 46.87 211.57 47.87 212.00 48.50C212.43 49.13 213.31 49.62 214.10 49.90C214.89 50.17 215.93 50.15 216.75 50.15C217.57 50.15 218.62 49.94 219.00 49.90M224.50 36.75C224.51 37.62 224.53 40.29 224.55 42.00C224.58 43.71 224.53 45.79 224.65 47.00C224.77 48.21 224.86 48.67 225.25 49.25C225.64 49.83 226.38 50.42 227.00 50.50C227.62 50.58 228.47 50.25 229.00 49.75C229.53 49.25 229.96 47.88 230.15 47.50M220.00 41.50C220.79 41.38 223.06 41.02 224.75 40.75C226.44 40.48 229.25 40.04 230.15 39.90M233.85 45.30C233.88 45.62 233.98 46.57 234.05 47.25C234.12 47.93 234.26 49.04 234.30 49.40M244.65 42.90C244.15 42.93 242.53 42.83 241.65 43.10C240.78 43.37 239.97 43.93 239.40 44.50C238.83 45.07 238.33 45.88 238.25 46.50C238.17 47.12 238.42 47.81 238.90 48.25C239.38 48.69 240.28 49.07 241.15 49.15C242.03 49.23 243.32 49.07 244.15 48.75C244.98 48.43 245.71 47.83 246.15 47.25C246.59 46.67 246.84 45.88 246.80 45.25C246.76 44.62 246.38 43.90 245.90 43.50C245.42 43.10 244.23 42.96 243.90 42.85M249.65 43.90C249.63 44.33 249.58 45.63 249.55 46.50C249.52 47.37 249.47 48.67 249.45 49.10M249.55 47.60C249.72 47.25 250.12 46.10 250.55 45.50C250.98 44.90 251.57 44.35 252.15 44.00C252.73 43.65 253.55 43.32 254.05 43.40C254.55 43.48 254.88 43.94 255.15 44.50C255.42 45.06 255.48 45.98 255.65 46.75C255.82 47.52 256.07 48.71 256.15 49.10" fill="none" stroke="#1e1e1e" stroke-width="2.25" stroke-linecap="round" stroke-linejoin="round"/>
<path d="M72.25 60.85C72.21 61.73 72.00 64.39 72.00 66.10C72.00 67.81 72.07 69.50 72.25 71.10C72.43 72.70 72.96 74.93 73.10 75.70M72.00 70.00C71.58 69.87 70.42 69.20 69.50 69.20C68.58 69.20 67.32 69.47 66.50 70.00C65.68 70.53 64.98 71.57 64.60 72.35C64.22 73.13 64.05 74.12 64.20 74.70C64.35 75.28 64.87 75.72 65.50 75.80C66.13 75.88 67.18 75.69 68.00 75.20C68.82 74.71 69.71 73.77 70.40 72.85C71.09 71.93 71.86 70.22 72.15 69.70M77.15 73.25C77.69 73.12 79.33 72.85 80.40 72.50C81.47 72.15 83.09 71.62 83.55 71.15C84.01 70.68 83.51 70.07 83.15 69.65C82.79 69.23 82.11 68.73 81.40 68.65C80.69 68.57 79.61 68.76 78.90 69.15C78.19 69.54 77.54 70.28 77.15 71.00C76.76 71.72 76.55 72.67 76.55 73.50C76.55 74.33 76.72 75.33 77.15 76.00C77.58 76.67 78.32 77.26 79.15 77.55C79.98 77.84 81.13 77.87 82.15 77.75C83.17 77.63 84.73 77.00 85.25 76.85M96.25 66.50C96.04 66.04 95.58 64.56 95.00 63.75C94.42 62.94 93.50 62.11 92.75 61.65C92.00 61.19 91.10 60.73 90.50 61.00C89.90 61.27 89.44 62.21 89.15 63.25C88.86 64.29 88.75 65.83 88.75 67.25C88.75 68.67 88.98 70.33 89.15 71.75C89.32 73.17 89.65 75.08 89.75 75.75M86.35 69.00C87.08 69.11 89.12 69.38 90.75 69.65C92.38 69.93 95.25 70.48 96.15 70.65M98.60 71.55C98.63 71.88 98.73 72.82 98.80 73.50C98.88 74.18 99.01 75.29 99.05 75.65M102.05 70.15C102.03 70.58 101.98 71.88 101.95 72.75C101.92 73.62 101.87 74.92 101.85 75.35M101.95 73.85C102.12 73.50 102.52 72.35 102.95 71.75C103.38 71.15 103.97 70.60 104.55 70.25C105.13 69.90 105.95 69.57 106.45 69.65C106.95 69.73 107.28 70.19 107.55 70.75C107.82 71.31 107.88 72.23 108.05 73.00C108.22 73.77 108.47 74.96 108.55 75.35M112.50 71.55C112.53 71.88 112.62 72.82 112.70 73.50C112.78 74.18 112.91 75.29 112.95 75.65M119.25 63.00C119.26 63.88 119.27 66.54 119.30 68.25C119.33 69.96 119.28 72.04 119.40 73.25C119.52 74.46 119.61 74.92 120.00 75.50C120.39 76.08 121.12 76.67 121.75 76.75C122.38 76.83 123.22 76.50 123.75 76.00C124.28 75.50 124.71 74.12 124.90 73.75M114.75 67.75C115.54 67.62 117.81 67.27 119.50 67.00C121.19 66.73 124.00 66.29 124.90 66.15M128.50 71.55C128.53 71.88 128.62 72.82 128.70 73.50C128.78 74.18 128.91 75.29 128.95 75.65M139.85 69.15C139.35 69.18 137.72 69.08 136.85 69.35C135.97 69.62 135.17 70.18 134.60 70.75C134.03 71.32 133.53 72.12 133.45 72.75C133.37 73.38 133.62 74.06 134.10 74.50C134.58 74.94 135.47 75.32 136.35 75.40C137.22 75.48 138.52 75.32 139.35 75.00C140.18 74.68 140.91 74.08 141.35 73.50C141.79 72.92 142.04 72.12 142.00 71.50C141.96 70.88 141.58 70.15 141.10 69.75C140.62 69.35 139.43 69.21 139.10 69.10M144.85 70.15C144.83 70.58 144.78 71.88 144.75 72.75C144.72 73.62 144.67 74.92 144.65 75.35M144.75 73.85C144.92 73.50 145.32 72.35 145.75 71.75C146.18 71.15 146.77 70.60 147.35 70.25C147.93 69.90 148.75 69.57 149.25 69.65C149.75 69.73 150.08 70.19 150.35 70.75C150.62 71.31 150.68 72.23 150.85 73.00C151.02 73.77 151.27 74.96 151.35 75.35" fill="none" stroke="#1e1e1e" stroke-width="2.25" stroke-linecap="round" stroke-linejoin="round"/>
<path d="M171.00 126.00C171.67 125.92 173.58 125.62 175.00 125.50C176.42 125.38 178.75 125.29 179.50 125.25M175.00 125.60C174.96 126.50 174.83 129.14 174.75 131.00C174.67 132.86 174.54 135.79 174.50 136.75M170.25 137.25C170.96 137.17 173.00 136.92 174.50 136.75C176.00 136.58 178.46 136.33 179.25 136.25M185.00 124.50C185.01 125.38 185.03 128.04 185.05 129.75C185.08 131.46 185.03 133.54 185.15 134.75C185.27 135.96 185.36 136.42 185.75 137.00C186.14 137.58 186.88 138.17 187.50 138.25C188.12 138.33 188.97 138.00 189.50 137.50C190.03 137.00 190.46 135.62 190.65 135.25M180.50 129.25C181.29 129.12 183.56 128.77 185.25 128.50C186.94 128.23 189.75 127.79 190.65 127.65M194.85 134.75C195.39 134.62 197.03 134.35 198.10 134.00C199.17 133.65 200.79 133.12 201.25 132.65C201.71 132.18 201.21 131.57 200.85 131.15C200.49 130.73 199.81 130.23 199.10 130.15C198.39 130.07 197.31 130.26 196.60 130.65C195.89 131.04 195.24 131.78 194.85 132.50C194.46 133.22 194.25 134.17 194.25 135.00C194.25 135.83 194.42 136.82 194.85 137.50C195.28 138.18 196.02 138.76 196.85 139.05C197.68 139.34 198.83 139.37 199.85 139.25C200.87 139.13 202.43 138.50 202.95 138.35M206.00 130.85C206.03 131.42 206.11 133.18 206.15 134.25C206.19 135.32 206.23 136.75 206.25 137.25M206.25 134.15C206.42 133.75 206.81 132.38 207.25 131.75C207.69 131.12 208.28 130.64 208.90 130.35C209.53 130.06 210.42 129.97 211.00 130.00C211.58 130.03 212.07 130.25 212.40 130.50C212.73 130.75 212.90 131.33 213.00 131.50M221.50 131.75C221.14 131.62 220.09 131.03 219.35 131.00C218.61 130.97 217.69 131.19 217.05 131.55C216.41 131.91 215.83 132.58 215.50 133.15C215.17 133.72 214.98 134.45 215.05 135.00C215.12 135.55 215.48 136.16 215.95 136.45C216.42 136.74 217.22 136.85 217.85 136.75C218.48 136.65 219.20 136.31 219.75 135.85C220.30 135.39 220.80 134.64 221.15 134.00C221.50 133.36 221.73 132.33 221.85 132.00M221.85 131.75C221.93 132.12 222.03 133.32 222.35 134.00C222.67 134.68 223.14 135.35 223.75 135.85C224.36 136.35 225.62 136.81 226.00 137.00M231.25 124.50C231.26 125.38 231.28 128.04 231.30 129.75C231.33 131.46 231.28 133.54 231.40 134.75C231.52 135.96 231.61 136.42 232.00 137.00C232.39 137.58 233.12 138.17 233.75 138.25C234.38 138.33 235.22 138.00 235.75 137.50C236.28 137.00 236.71 135.62 236.90 135.25M226.75 129.25C227.54 129.12 229.81 128.77 231.50 128.50C233.19 128.23 236.00 127.79 236.90 127.65M240.35 133.05C240.38 133.38 240.48 134.32 240.55 135.00C240.62 135.68 240.76 136.79 240.80 137.15M244.75 131.65C244.73 132.08 244.68 133.38 244.65 134.25C244.62 135.12 244.57 136.42 244.55 136.85M244.65 135.35C244.82 135.00 245.22 133.85 245.65 133.25C246.08 132.65 246.67 132.10 247.25 131.75C247.83 131.40 248.65 131.07 249.15 131.15C249.65 131.23 249.98 131.69 250.25 132.25C250.52 132.81 250.58 133.73 250.75 134.50C250.92 135.27 251.17 136.46 251.25 136.85M262.50 133.00C262.21 132.73 261.50 131.73 260.75 131.40C260.00 131.07 258.89 130.82 258.00 131.00C257.11 131.18 255.97 131.88 255.40 132.50C254.83 133.12 254.50 134.08 254.60 134.75C254.70 135.42 255.35 136.19 256.00 136.50C256.65 136.81 257.71 136.81 258.50 136.60C259.29 136.39 260.10 135.83 260.75 135.25C261.40 134.67 262.12 133.46 262.40 133.10M262.60 132.90C262.46 133.67 262.10 135.98 261.75 137.50C261.40 139.02 260.89 140.68 260.50 142.00C260.11 143.32 259.58 144.83 259.40 145.40M259.40 145.40C259.08 145.23 258.19 144.80 257.50 144.40C256.81 144.00 255.62 143.23 255.25 143.00M282.25 130.65C281.75 130.68 280.12 130.58 279.25 130.85C278.38 131.12 277.57 131.68 277.00 132.25C276.43 132.82 275.93 133.62 275.85 134.25C275.77 134.88 276.02 135.56 276.50 136.00C276.98 136.44 277.88 136.82 278.75 136.90C279.62 136.98 280.92 136.82 281.75 136.50C282.58 136.18 283.31 135.58 283.75 135.00C284.19 134.42 284.44 133.62 284.40 133.00C284.36 132.38 283.98 131.65 283.50 131.25C283.02 130.85 281.83 130.71 281.50 130.60M287.00 129.75C287.29 130.38 288.17 132.29 288.75 133.50C289.33 134.71 290.21 136.42 290.50 137.00M290.50 137.00C290.96 136.33 292.32 134.27 293.25 133.00C294.18 131.73 295.62 130.00 296.10 129.40M299.00 134.75C299.54 134.62 301.18 134.35 302.25 134.00C303.32 133.65 304.94 133.12 305.40 132.65C305.86 132.18 305.36 131.57 305.00 131.15C304.64 130.73 303.96 130.23 303.25 130.15C302.54 130.07 301.46 130.26 300.75 130.65C300.04 131.04 299.39 131.78 299.00 132.50C298.61 133.22 298.40 134.17 298.40 135.00C298.40 135.83 298.57 136.82 299.00 137.50C299.43 138.18 300.17 138.76 301.00 139.05C301.83 139.34 302.98 139.37 304.00 139.25C305.02 139.13 306.58 138.50 307.10 138.35M310.00 130.85C310.02 131.42 310.11 133.18 310.15 134.25C310.19 135.32 310.23 136.75 310.25 137.25M310.25 134.15C310.42 133.75 310.81 132.38 311.25 131.75C311.69 131.12 312.28 130.64 312.90 130.35C313.53 130.06 314.42 129.97 315.00 130.00C315.58 130.03 316.07 130.25 316.40 130.50C316.73 130.75 316.90 131.33 317.00 131.50" fill="none" stroke="#1e1e1e" stroke-width="2.25" stroke-linecap="round" stroke-linejoin="round"/>
<path d="M177.75 157.75C177.39 157.62 176.34 157.03 175.60 157.00C174.86 156.97 173.94 157.19 173.30 157.55C172.66 157.91 172.08 158.58 171.75 159.15C171.42 159.72 171.23 160.45 171.30 161.00C171.38 161.55 171.73 162.16 172.20 162.45C172.67 162.74 173.47 162.85 174.10 162.75C174.73 162.65 175.45 162.31 176.00 161.85C176.55 161.39 177.05 160.64 177.40 160.00C177.75 159.36 177.98 158.33 178.10 158.00M178.10 157.75C178.18 158.12 178.28 159.32 178.60 160.00C178.92 160.68 179.39 161.35 180.00 161.85C180.61 162.35 181.88 162.81 182.25 163.00M202.90 159.00C202.61 158.73 201.90 157.73 201.15 157.40C200.40 157.07 199.29 156.82 198.40 157.00C197.51 157.18 196.37 157.88 195.80 158.50C195.23 159.12 194.90 160.08 195.00 160.75C195.10 161.42 195.75 162.19 196.40 162.50C197.05 162.81 198.11 162.81 198.90 162.60C199.69 162.39 200.50 161.83 201.15 161.25C201.80 160.67 202.53 159.46 202.80 159.10M203.00 158.90C202.86 159.67 202.50 161.98 202.15 163.50C201.80 165.02 201.29 166.68 200.90 168.00C200.51 169.32 199.98 170.83 199.80 171.40M199.80 171.40C199.48 171.23 198.59 170.80 197.90 170.40C197.21 170.00 196.03 169.23 195.65 169.00M206.75 160.75C207.29 160.62 208.93 160.35 210.00 160.00C211.07 159.65 212.69 159.12 213.15 158.65C213.61 158.18 213.11 157.57 212.75 157.15C212.39 156.73 211.71 156.23 211.00 156.15C210.29 156.07 209.21 156.26 208.50 156.65C207.79 157.04 207.14 157.78 206.75 158.50C206.36 159.22 206.15 160.17 206.15 161.00C206.15 161.83 206.32 162.82 206.75 163.50C207.18 164.18 207.92 164.76 208.75 165.05C209.58 165.34 210.73 165.37 211.75 165.25C212.77 165.13 214.33 164.50 214.85 164.35M217.00 157.65C216.98 158.08 216.93 159.38 216.90 160.25C216.87 161.12 216.82 162.42 216.80 162.85M216.90 161.35C217.07 161.00 217.47 159.85 217.90 159.25C218.33 158.65 218.92 158.10 219.50 157.75C220.08 157.40 220.90 157.07 221.40 157.15C221.90 157.23 222.23 157.69 222.50 158.25C222.77 158.81 222.83 159.73 223.00 160.50C223.17 161.27 223.42 162.46 223.50 162.85M228.00 160.75C228.54 160.62 230.18 160.35 231.25 160.00C232.32 159.65 233.94 159.12 234.40 158.65C234.86 158.18 234.36 157.57 234.00 157.15C233.64 156.73 232.96 156.23 232.25 156.15C231.54 156.07 230.46 156.26 229.75 156.65C229.04 157.04 228.39 157.78 228.00 158.50C227.61 159.22 227.40 160.17 227.40 161.00C227.40 161.83 227.57 162.82 228.00 163.50C228.43 164.18 229.17 164.76 230.00 165.05C230.83 165.34 231.98 165.37 233.00 165.25C234.02 165.13 235.58 164.50 236.10 164.35M238.75 156.85C238.78 157.42 238.86 159.18 238.90 160.25C238.94 161.32 238.98 162.75 239.00 163.25M239.00 160.15C239.17 159.75 239.56 158.38 240.00 157.75C240.44 157.12 241.03 156.64 241.65 156.35C242.28 156.06 243.17 155.97 243.75 156.00C244.33 156.03 244.82 156.25 245.15 156.50C245.48 156.75 245.65 157.33 245.75 157.50M253.75 157.75C253.39 157.62 252.34 157.03 251.60 157.00C250.86 156.97 249.94 157.19 249.30 157.55C248.66 157.91 248.08 158.58 247.75 159.15C247.42 159.72 247.23 160.45 247.30 161.00C247.38 161.55 247.73 162.16 248.20 162.45C248.67 162.74 249.47 162.85 250.10 162.75C250.73 162.65 251.45 162.31 252.00 161.85C252.55 161.39 253.05 160.64 253.40 160.00C253.75 159.36 253.98 158.33 254.10 158.00M254.10 157.75C254.18 158.12 254.28 159.32 254.60 160.00C254.92 160.68 255.39 161.35 256.00 161.85C256.61 162.35 257.88 162.81 258.25 163.00M264.25 150.50C264.26 151.38 264.28 154.04 264.30 155.75C264.32 157.46 264.28 159.54 264.40 160.75C264.52 161.96 264.61 162.42 265.00 163.00C265.39 163.58 266.12 164.17 266.75 164.25C267.38 164.33 268.23 164.00 268.75 163.50C269.27 163.00 269.71 161.62 269.90 161.25M259.75 155.25C260.54 155.12 262.81 154.77 264.50 154.50C266.19 154.23 269.00 153.79 269.90 153.65M279.85 156.65C279.35 156.68 277.73 156.58 276.85 156.85C275.98 157.12 275.17 157.68 274.60 158.25C274.03 158.82 273.53 159.62 273.45 160.25C273.37 160.88 273.62 161.56 274.10 162.00C274.58 162.44 275.48 162.82 276.35 162.90C277.23 162.98 278.52 162.82 279.35 162.50C280.18 162.18 280.91 161.58 281.35 161.00C281.79 160.42 282.04 159.62 282.00 159.00C281.96 158.38 281.58 157.65 281.10 157.25C280.62 156.85 279.43 156.71 279.10 156.60M285.00 156.85C285.02 157.42 285.11 159.18 285.15 160.25C285.19 161.32 285.23 162.75 285.25 163.25M285.25 160.15C285.42 159.75 285.81 158.38 286.25 157.75C286.69 157.12 287.28 156.64 287.90 156.35C288.53 156.06 289.42 155.97 290.00 156.00C290.58 156.03 291.07 156.25 291.40 156.50C291.73 156.75 291.90 157.33 292.00 157.50" fill="none" stroke="#1e1e1e" stroke-width="2.25" stroke-linecap="round" stroke-linejoin="round"/>
<path d="M239.25 216.75C238.46 216.83 236.08 217.08 234.50 217.25C232.92 217.42 230.54 217.67 229.75 217.75M229.75 217.75C229.72 218.62 229.64 221.29 229.60 223.00C229.56 224.71 229.52 227.17 229.50 228.00M230.25 222.75C231.08 222.65 233.58 222.32 235.25 222.15C236.92 221.98 239.42 221.82 240.25 221.75M229.50 228.00C230.42 227.92 233.21 227.67 235.00 227.50C236.79 227.33 239.38 227.08 240.25 227.00M245.25 221.50C245.79 222.04 247.46 223.67 248.50 224.75C249.54 225.83 251.00 227.46 251.50 228.00M254.75 221.25C253.79 221.88 250.88 223.71 249.00 225.00C247.12 226.29 244.42 228.33 243.50 229.00M256.65 225.40C257.19 225.28 258.83 225.00 259.90 224.65C260.97 224.30 262.59 223.78 263.05 223.30C263.51 222.83 263.01 222.22 262.65 221.80C262.29 221.38 261.61 220.88 260.90 220.80C260.19 220.72 259.11 220.91 258.40 221.30C257.69 221.69 257.04 222.43 256.65 223.15C256.26 223.88 256.05 224.82 256.05 225.65C256.05 226.48 256.22 227.47 256.65 228.15C257.08 228.83 257.82 229.41 258.65 229.70C259.48 229.99 260.63 230.02 261.65 229.90C262.67 229.78 264.23 229.15 264.75 229.00M272.65 222.15C272.32 222.04 271.34 221.47 270.65 221.50C269.96 221.53 269.07 221.80 268.50 222.30C267.93 222.80 267.38 223.73 267.25 224.50C267.12 225.27 267.32 226.27 267.75 226.90C268.18 227.53 269.06 228.03 269.85 228.30C270.64 228.58 271.68 228.55 272.50 228.55C273.32 228.55 274.38 228.34 274.75 228.30M277.50 221.15C277.51 221.61 277.41 223.04 277.55 223.90C277.69 224.76 277.94 225.72 278.35 226.30C278.76 226.88 279.37 227.27 280.00 227.40C280.63 227.53 281.46 227.47 282.15 227.10C282.84 226.72 283.65 225.89 284.15 225.15C284.65 224.41 284.93 223.32 285.15 222.65C285.37 221.98 285.40 221.40 285.45 221.15M285.45 220.90C285.48 221.48 285.56 223.28 285.65 224.40C285.74 225.53 285.94 227.11 286.00 227.65M292.00 215.15C292.01 216.03 292.03 218.69 292.05 220.40C292.07 222.11 292.03 224.19 292.15 225.40C292.27 226.61 292.36 227.07 292.75 227.65C293.14 228.23 293.88 228.82 294.50 228.90C295.12 228.98 295.98 228.65 296.50 228.15C297.02 227.65 297.46 226.28 297.65 225.90M287.50 219.90C288.29 219.78 290.56 219.42 292.25 219.15C293.94 218.88 296.75 218.44 297.65 218.30M301.60 223.70C301.63 224.03 301.72 224.97 301.80 225.65C301.87 226.33 302.01 227.44 302.05 227.80M312.50 221.30C312.00 221.33 310.38 221.23 309.50 221.50C308.62 221.77 307.82 222.33 307.25 222.90C306.68 223.47 306.18 224.28 306.10 224.90C306.02 225.53 306.27 226.21 306.75 226.65C307.23 227.09 308.12 227.47 309.00 227.55C309.88 227.63 311.17 227.47 312.00 227.15C312.83 226.83 313.56 226.23 314.00 225.65C314.44 225.07 314.69 224.28 314.65 223.65C314.61 223.03 314.23 222.30 313.75 221.90C313.27 221.50 312.08 221.36 311.75 221.25M317.25 222.30C317.23 222.73 317.18 224.03 317.15 224.90C317.12 225.77 317.07 227.07 317.05 227.50M317.15 226.00C317.32 225.65 317.72 224.50 318.15 223.90C318.58 223.30 319.17 222.75 319.75 222.40C320.33 222.05 321.15 221.72 321.65 221.80C322.15 221.88 322.48 222.34 322.75 222.90C323.02 223.46 323.08 224.38 323.25 225.15C323.42 225.92 323.67 227.11 323.75 227.50M338.40 222.50C338.32 223.17 338.01 225.17 337.90 226.50C337.79 227.83 337.69 228.98 337.75 230.50C337.81 232.02 338.17 234.75 338.25 235.60M338.10 224.90C338.33 224.48 338.81 222.93 339.50 222.40C340.19 221.88 341.43 221.61 342.25 221.75C343.07 221.89 343.97 222.58 344.40 223.25C344.82 223.92 344.99 225.01 344.80 225.75C344.61 226.49 343.97 227.33 343.25 227.70C342.53 228.08 341.31 228.13 340.50 228.00C339.69 227.87 338.75 227.08 338.40 226.90M354.25 222.40C353.89 222.28 352.84 221.68 352.10 221.65C351.36 221.62 350.44 221.84 349.80 222.20C349.16 222.56 348.58 223.23 348.25 223.80C347.92 224.38 347.73 225.10 347.80 225.65C347.88 226.20 348.23 226.81 348.70 227.10C349.17 227.39 349.97 227.50 350.60 227.40C351.23 227.30 351.95 226.96 352.50 226.50C353.05 226.04 353.55 225.29 353.90 224.65C354.25 224.01 354.48 222.98 354.60 222.65M354.60 222.40C354.68 222.78 354.78 223.97 355.10 224.65C355.42 225.33 355.89 226.00 356.50 226.50C357.11 227.00 358.38 227.46 358.75 227.65M361.60 221.15C361.61 221.61 361.51 223.04 361.65 223.90C361.79 224.76 362.04 225.72 362.45 226.30C362.86 226.88 363.47 227.27 364.10 227.40C364.73 227.53 365.56 227.47 366.25 227.10C366.94 226.72 367.75 225.89 368.25 225.15C368.75 224.41 369.03 223.32 369.25 222.65C369.47 221.98 369.50 221.40 369.55 221.15M369.55 220.90C369.58 221.48 369.66 223.28 369.75 224.40C369.84 225.53 370.04 227.11 370.10 227.65M379.90 220.25C379.33 220.39 377.57 220.81 376.50 221.10C375.43 221.39 374.00 221.85 373.50 222.00M373.50 222.00C374.25 222.42 376.58 223.62 378.00 224.50C379.42 225.38 381.27 226.58 382.00 227.25C382.73 227.92 382.57 228.19 382.40 228.50C382.23 228.81 381.82 229.03 381.00 229.10C380.18 229.17 378.62 229.04 377.50 228.90C376.38 228.76 374.79 228.36 374.25 228.25M386.00 225.40C386.54 225.28 388.18 225.00 389.25 224.65C390.32 224.30 391.94 223.78 392.40 223.30C392.86 222.83 392.36 222.22 392.00 221.80C391.64 221.38 390.96 220.88 390.25 220.80C389.54 220.72 388.46 220.91 387.75 221.30C387.04 221.69 386.39 222.43 386.00 223.15C385.61 223.88 385.40 224.82 385.40 225.65C385.40 226.48 385.57 227.47 386.00 228.15C386.43 228.83 387.17 229.41 388.00 229.70C388.83 229.99 389.98 230.02 391.00 229.90C392.02 229.78 393.58 229.15 394.10 229.00M402.35 220.25C401.78 220.39 400.02 220.81 398.95 221.10C397.88 221.39 396.45 221.85 395.95 222.00M395.95 222.00C396.70 222.42 399.03 223.62 400.45 224.50C401.87 225.38 403.72 226.58 404.45 227.25C405.18 227.92 405.02 228.19 404.85 228.50C404.68 228.81 404.27 229.03 403.45 229.10C402.63 229.17 401.07 229.04 399.95 228.90C398.82 228.76 397.24 228.36 396.70 228.25" fill="none" stroke="#1e1e1e" stroke-width="2.25" stroke-linecap="round" stroke-linejoin="round"/>
<path d="M229.50 247.70C229.52 248.24 229.45 249.84 229.60 250.95C229.75 252.06 230.27 253.78 230.40 254.35M230.40 254.35C230.71 254.16 231.63 253.71 232.25 253.20C232.87 252.69 233.79 251.62 234.10 251.30M234.10 251.30C234.21 251.53 234.47 252.24 234.75 252.70C235.03 253.16 235.58 253.83 235.75 254.05M235.75 254.05C236.25 253.45 237.72 251.73 238.75 250.45C239.78 249.17 241.38 247.03 241.90 246.35M242.85 249.80C242.88 250.12 242.98 251.07 243.05 251.75C243.12 252.43 243.26 253.54 243.30 253.90M249.50 241.25C249.51 242.12 249.53 244.79 249.55 246.50C249.58 248.21 249.53 250.29 249.65 251.50C249.77 252.71 249.86 253.17 250.25 253.75C250.64 254.33 251.38 254.92 252.00 255.00C252.62 255.08 253.47 254.75 254.00 254.25C254.53 253.75 254.96 252.38 255.15 252.00M245.00 246.00C245.79 245.88 248.06 245.52 249.75 245.25C251.44 244.98 254.25 244.54 255.15 244.40M258.50 243.05C258.52 244.03 258.55 247.09 258.60 248.95C258.65 250.81 258.77 253.32 258.80 254.20M258.80 252.55C259.07 252.13 259.77 250.63 260.40 250.05C261.03 249.47 261.92 249.11 262.60 249.05C263.28 248.99 263.98 249.23 264.50 249.70C265.02 250.17 265.35 251.07 265.70 251.85C266.05 252.62 266.45 253.93 266.60 254.35M288.75 247.45C288.73 247.95 288.43 249.53 288.60 250.45C288.77 251.37 289.18 252.38 289.75 252.95C290.32 253.52 291.29 253.85 292.00 253.85C292.71 253.85 293.67 253.10 294.00 252.95M296.35 247.45C296.14 248.12 295.53 250.20 295.10 251.45C294.67 252.70 294.39 253.41 293.75 254.95C293.11 256.49 291.67 259.74 291.25 260.70M299.10 249.80C299.13 250.12 299.22 251.07 299.30 251.75C299.37 252.43 299.51 253.54 299.55 253.90M303.75 251.50C304.29 251.38 305.93 251.10 307.00 250.75C308.07 250.40 309.69 249.88 310.15 249.40C310.61 248.93 310.11 248.32 309.75 247.90C309.39 247.48 308.71 246.98 308.00 246.90C307.29 246.82 306.21 247.01 305.50 247.40C304.79 247.79 304.14 248.53 303.75 249.25C303.36 249.97 303.15 250.92 303.15 251.75C303.15 252.58 303.32 253.57 303.75 254.25C304.18 254.93 304.92 255.51 305.75 255.80C306.58 256.09 307.73 256.12 308.75 256.00C309.77 255.88 311.33 255.25 311.85 255.10M315.75 237.20C315.75 238.66 315.69 243.09 315.75 245.95C315.81 248.81 316.04 252.95 316.10 254.35M327.90 239.10C327.86 239.97 327.65 242.64 327.65 244.35C327.65 246.06 327.72 247.75 327.90 249.35C328.08 250.95 328.61 253.18 328.75 253.95M327.65 248.25C327.23 248.12 326.07 247.45 325.15 247.45C324.23 247.45 322.97 247.72 322.15 248.25C321.33 248.78 320.63 249.82 320.25 250.60C319.87 251.38 319.70 252.38 319.85 252.95C320.00 253.52 320.52 253.97 321.15 254.05C321.78 254.13 322.83 253.94 323.65 253.45C324.47 252.96 325.36 252.02 326.05 251.10C326.74 250.18 327.51 248.47 327.80 247.95" fill="none" stroke="#1e1e1e" stroke-width="2.25" stroke-linecap="round" stroke-linejoin="round"/>
<path d="M333.35 320.55C332.56 320.63 330.18 320.88 328.60 321.05C327.02 321.22 324.64 321.47 323.85 321.55M323.85 321.55C323.83 322.43 323.74 325.09 323.70 326.80C323.66 328.51 323.62 330.97 323.60 331.80M324.35 326.55C325.18 326.45 327.68 326.12 329.35 325.95C331.02 325.78 333.52 325.62 334.35 325.55M323.60 331.80C324.52 331.72 327.31 331.47 329.10 331.30C330.89 331.13 333.48 330.88 334.35 330.80M339.35 325.30C339.89 325.84 341.56 327.47 342.60 328.55C343.64 329.63 345.10 331.26 345.60 331.80M348.85 325.05C347.89 325.68 344.98 327.51 343.10 328.80C341.23 330.09 338.52 332.13 337.60 332.80M350.75 329.20C351.29 329.07 352.93 328.80 354.00 328.45C355.07 328.10 356.69 327.57 357.15 327.10C357.61 326.62 357.11 326.02 356.75 325.60C356.39 325.18 355.71 324.68 355.00 324.60C354.29 324.52 353.21 324.71 352.50 325.10C351.79 325.49 351.14 326.22 350.75 326.95C350.36 327.68 350.15 328.62 350.15 329.45C350.15 330.28 350.32 331.27 350.75 331.95C351.18 332.62 351.92 333.21 352.75 333.50C353.58 333.79 354.73 333.82 355.75 333.70C356.77 333.58 358.33 332.95 358.85 332.80M366.75 325.95C366.42 325.84 365.44 325.28 364.75 325.30C364.06 325.32 363.17 325.60 362.60 326.10C362.03 326.60 361.48 327.53 361.35 328.30C361.23 329.07 361.42 330.07 361.85 330.70C362.28 331.33 363.16 331.82 363.95 332.10C364.74 332.37 365.78 332.35 366.60 332.35C367.42 332.35 368.48 332.14 368.85 332.10M371.60 324.95C371.61 325.41 371.51 326.84 371.65 327.70C371.79 328.56 372.04 329.52 372.45 330.10C372.86 330.68 373.47 331.07 374.10 331.20C374.73 331.33 375.56 331.27 376.25 330.90C376.94 330.52 377.75 329.69 378.25 328.95C378.75 328.21 379.03 327.12 379.25 326.45C379.47 325.78 379.50 325.20 379.55 324.95M379.55 324.70C379.58 325.28 379.66 327.07 379.75 328.20C379.84 329.32 380.04 330.91 380.10 331.45M386.10 318.95C386.11 319.82 386.13 322.49 386.15 324.20C386.18 325.91 386.13 327.99 386.25 329.20C386.37 330.41 386.46 330.87 386.85 331.45C387.24 332.03 387.98 332.62 388.60 332.70C389.23 332.78 390.08 332.45 390.60 331.95C391.12 331.45 391.56 330.07 391.75 329.70M381.60 323.70C382.39 323.57 384.66 323.22 386.35 322.95C388.04 322.68 390.85 322.24 391.75 322.10M395.70 327.50C395.73 327.82 395.82 328.77 395.90 329.45C395.97 330.13 396.11 331.24 396.15 331.60M406.60 325.10C406.10 325.13 404.48 325.03 403.60 325.30C402.73 325.57 401.92 326.13 401.35 326.70C400.78 327.27 400.28 328.07 400.20 328.70C400.12 329.32 400.37 330.01 400.85 330.45C401.33 330.89 402.23 331.27 403.10 331.35C403.98 331.43 405.27 331.27 406.10 330.95C406.93 330.63 407.66 330.03 408.10 329.45C408.54 328.87 408.79 328.07 408.75 327.45C408.71 326.82 408.33 326.10 407.85 325.70C407.37 325.30 406.18 325.16 405.85 325.05M411.45 326.10C411.43 326.53 411.38 327.83 411.35 328.70C411.32 329.57 411.27 330.87 411.25 331.30M411.35 329.80C411.52 329.45 411.92 328.30 412.35 327.70C412.78 327.10 413.37 326.55 413.95 326.20C414.53 325.85 415.35 325.52 415.85 325.60C416.35 325.68 416.68 326.14 416.95 326.70C417.22 327.26 417.28 328.18 417.45 328.95C417.62 329.72 417.87 330.91 417.95 331.30M431.75 325.30C431.77 325.87 431.86 327.63 431.90 328.70C431.94 329.77 431.98 331.20 432.00 331.70M432.00 328.60C432.17 328.20 432.56 326.83 433.00 326.20C433.44 325.57 434.03 325.09 434.65 324.80C435.28 324.51 436.17 324.43 436.75 324.45C437.33 324.47 437.82 324.70 438.15 324.95C438.48 325.20 438.65 325.78 438.75 325.95M441.50 329.20C442.04 329.07 443.68 328.80 444.75 328.45C445.82 328.10 447.44 327.57 447.90 327.10C448.36 326.62 447.86 326.02 447.50 325.60C447.14 325.18 446.46 324.68 445.75 324.60C445.04 324.52 443.96 324.71 443.25 325.10C442.54 325.49 441.89 326.22 441.50 326.95C441.11 327.68 440.90 328.62 440.90 329.45C440.90 330.28 441.07 331.27 441.50 331.95C441.93 332.62 442.67 333.21 443.50 333.50C444.33 333.79 445.48 333.82 446.50 333.70C447.52 333.58 449.08 332.95 449.60 332.80M458.15 324.05C457.58 324.19 455.82 324.61 454.75 324.90C453.68 325.19 452.25 325.65 451.75 325.80M451.75 325.80C452.50 326.22 454.83 327.43 456.25 328.30C457.67 329.18 459.52 330.38 460.25 331.05C460.98 331.72 460.82 331.99 460.65 332.30C460.48 332.61 460.07 332.83 459.25 332.90C458.43 332.97 456.88 332.84 455.75 332.70C454.62 332.56 453.04 332.16 452.50 332.05M464.00 324.95C464.01 325.41 463.91 326.84 464.05 327.70C464.19 328.56 464.44 329.52 464.85 330.10C465.26 330.68 465.87 331.07 466.50 331.20C467.13 331.33 467.96 331.27 468.65 330.90C469.34 330.52 470.15 329.69 470.65 328.95C471.15 328.21 471.43 327.12 471.65 326.45C471.87 325.78 471.90 325.20 471.95 324.95M471.95 324.70C471.98 325.28 472.06 327.07 472.15 328.20C472.24 329.32 472.44 330.91 472.50 331.45M475.25 326.40C475.27 326.90 475.31 328.48 475.35 329.40C475.39 330.32 475.48 331.48 475.50 331.90M475.50 328.90C475.62 328.61 475.88 327.61 476.25 327.15C476.62 326.69 477.27 326.19 477.75 326.15C478.23 326.11 478.81 326.40 479.10 326.90C479.39 327.40 479.42 328.32 479.50 329.15C479.58 329.98 479.58 331.44 479.60 331.90M479.70 329.15C479.85 328.82 480.13 327.71 480.60 327.15C481.07 326.59 481.89 325.93 482.50 325.80C483.11 325.68 483.83 325.92 484.25 326.40C484.67 326.88 484.77 327.73 485.00 328.65C485.23 329.57 485.50 331.36 485.60 331.90M489.70 329.20C490.24 329.07 491.88 328.80 492.95 328.45C494.02 328.10 495.64 327.57 496.10 327.10C496.56 326.62 496.06 326.02 495.70 325.60C495.34 325.18 494.66 324.68 493.95 324.60C493.24 324.52 492.16 324.71 491.45 325.10C490.74 325.49 490.09 326.22 489.70 326.95C489.31 327.68 489.10 328.62 489.10 329.45C489.10 330.28 489.27 331.27 489.70 331.95C490.13 332.62 490.87 333.21 491.70 333.50C492.53 333.79 493.68 333.82 494.70 333.70C495.72 333.58 497.28 332.95 497.80 332.80M506.15 324.05C505.58 324.19 503.82 324.61 502.75 324.90C501.68 325.19 500.25 325.65 499.75 325.80M499.75 325.80C500.50 326.22 502.83 327.43 504.25 328.30C505.67 329.18 507.52 330.38 508.25 331.05C508.98 331.72 508.82 331.99 508.65 332.30C508.48 332.61 508.07 332.83 507.25 332.90C506.43 332.97 504.88 332.84 503.75 332.70C502.62 332.56 501.04 332.16 500.50 332.05" fill="none" stroke="#1e1e1e" stroke-width="2.25" stroke-linecap="round" stroke-linejoin="round"/>
<path d="M415.85 390.60C415.39 390.81 414.06 391.31 413.10 391.85C412.14 392.39 410.98 393.06 410.10 393.85C409.23 394.64 408.39 395.73 407.85 396.60C407.31 397.48 406.93 398.31 406.85 399.10C406.77 399.89 406.93 400.81 407.35 401.35C407.77 401.89 408.56 402.23 409.35 402.35C410.14 402.48 411.18 402.35 412.10 402.10C413.02 401.85 414.02 401.39 414.85 400.85C415.68 400.31 416.56 399.39 417.10 398.85C417.64 398.31 417.93 397.81 418.10 397.60M412.10 396.40C412.60 396.48 414.10 396.72 415.10 396.90C416.10 397.08 417.17 397.30 418.10 397.50C419.03 397.70 420.27 398.00 420.70 398.10M418.35 397.70C418.43 398.18 418.68 399.70 418.85 400.60C419.02 401.50 419.23 402.37 419.35 403.10C419.48 403.83 419.56 404.68 419.60 405.00M425.25 400.60C425.79 400.48 427.43 400.20 428.50 399.85C429.57 399.50 431.19 398.98 431.65 398.50C432.11 398.02 431.61 397.42 431.25 397.00C430.89 396.58 430.21 396.08 429.50 396.00C428.79 395.92 427.71 396.11 427.00 396.50C426.29 396.89 425.64 397.62 425.25 398.35C424.86 399.08 424.65 400.02 424.65 400.85C424.65 401.68 424.82 402.68 425.25 403.35C425.68 404.03 426.42 404.61 427.25 404.90C428.08 405.19 429.23 405.22 430.25 405.10C431.27 404.98 432.83 404.35 433.35 404.20M435.60 397.50C435.58 397.93 435.53 399.23 435.50 400.10C435.47 400.97 435.42 402.27 435.40 402.70M435.50 401.20C435.67 400.85 436.07 399.70 436.50 399.10C436.93 398.50 437.52 397.95 438.10 397.60C438.68 397.25 439.50 396.92 440.00 397.00C440.50 397.08 440.83 397.54 441.10 398.10C441.37 398.66 441.43 399.58 441.60 400.35C441.77 401.12 442.02 402.31 442.10 402.70M446.10 400.60C446.64 400.48 448.28 400.20 449.35 399.85C450.42 399.50 452.04 398.98 452.50 398.50C452.96 398.02 452.46 397.42 452.10 397.00C451.74 396.58 451.06 396.08 450.35 396.00C449.64 395.92 448.56 396.11 447.85 396.50C447.14 396.89 446.49 397.62 446.10 398.35C445.71 399.08 445.50 400.02 445.50 400.85C445.50 401.68 445.67 402.68 446.10 403.35C446.53 404.03 447.27 404.61 448.10 404.90C448.93 405.19 450.08 405.22 451.10 405.10C452.12 404.98 453.68 404.35 454.20 404.20M456.85 396.70C456.88 397.27 456.96 399.03 457.00 400.10C457.04 401.17 457.08 402.60 457.10 403.10M457.10 400.00C457.27 399.60 457.66 398.23 458.10 397.60C458.54 396.97 459.12 396.49 459.75 396.20C460.38 395.91 461.27 395.83 461.85 395.85C462.43 395.88 462.92 396.10 463.25 396.35C463.58 396.60 463.75 397.18 463.85 397.35M471.85 397.60C471.49 397.48 470.44 396.88 469.70 396.85C468.96 396.82 468.04 397.04 467.40 397.40C466.76 397.76 466.18 398.43 465.85 399.00C465.52 399.57 465.33 400.30 465.40 400.85C465.48 401.40 465.83 402.01 466.30 402.30C466.77 402.59 467.57 402.70 468.20 402.60C468.83 402.50 469.55 402.16 470.10 401.70C470.65 401.24 471.15 400.49 471.50 399.85C471.85 399.21 472.08 398.18 472.20 397.85M472.20 397.60C472.28 397.98 472.38 399.17 472.70 399.85C473.02 400.53 473.49 401.20 474.10 401.70C474.71 402.20 475.98 402.66 476.35 402.85M482.35 390.35C482.36 391.23 482.38 393.89 482.40 395.60C482.43 397.31 482.38 399.39 482.50 400.60C482.62 401.81 482.71 402.27 483.10 402.85C483.49 403.43 484.23 404.02 484.85 404.10C485.48 404.18 486.33 403.85 486.85 403.35C487.38 402.85 487.81 401.48 488.00 401.10M477.85 395.10C478.64 394.98 480.91 394.62 482.60 394.35C484.29 394.08 487.10 393.64 488.00 393.50M497.95 396.50C497.45 396.53 495.82 396.43 494.95 396.70C494.07 396.97 493.27 397.53 492.70 398.10C492.13 398.67 491.63 399.48 491.55 400.10C491.47 400.73 491.72 401.41 492.20 401.85C492.68 402.29 493.57 402.67 494.45 402.75C495.32 402.83 496.62 402.67 497.45 402.35C498.28 402.03 499.01 401.43 499.45 400.85C499.89 400.27 500.14 399.48 500.10 398.85C500.06 398.23 499.68 397.50 499.20 397.10C498.72 396.70 497.53 396.56 497.20 396.45M503.10 396.70C503.12 397.27 503.21 399.03 503.25 400.10C503.29 401.17 503.33 402.60 503.35 403.10M503.35 400.00C503.52 399.60 503.91 398.23 504.35 397.60C504.79 396.97 505.38 396.49 506.00 396.20C506.62 395.91 507.52 395.83 508.10 395.85C508.68 395.88 509.17 396.10 509.50 396.35C509.83 396.60 510.00 397.18 510.10 397.35M523.50 400.60C524.04 400.48 525.68 400.20 526.75 399.85C527.82 399.50 529.44 398.98 529.90 398.50C530.36 398.02 529.86 397.42 529.50 397.00C529.14 396.58 528.46 396.08 527.75 396.00C527.04 395.92 525.96 396.11 525.25 396.50C524.54 396.89 523.89 397.62 523.50 398.35C523.11 399.08 522.90 400.02 522.90 400.85C522.90 401.68 523.07 402.68 523.50 403.35C523.93 404.03 524.67 404.61 525.50 404.90C526.33 405.19 527.48 405.22 528.50 405.10C529.52 404.98 531.08 404.35 531.60 404.20M535.50 396.70C536.04 397.24 537.71 398.87 538.75 399.95C539.79 401.03 541.25 402.66 541.75 403.20M545.00 396.45C544.04 397.08 541.12 398.91 539.25 400.20C537.38 401.49 534.67 403.53 533.75 404.20M545.50 392.15C545.52 393.13 545.55 396.19 545.60 398.05C545.65 399.91 545.77 402.43 545.80 403.30M545.80 401.65C546.07 401.23 546.77 399.73 547.40 399.15C548.03 398.57 548.92 398.21 549.60 398.15C550.28 398.09 550.98 398.33 551.50 398.80C552.02 399.27 552.35 400.18 552.70 400.95C553.05 401.73 553.45 403.03 553.60 403.45M562.75 397.60C562.39 397.48 561.34 396.88 560.60 396.85C559.86 396.82 558.94 397.04 558.30 397.40C557.66 397.76 557.08 398.43 556.75 399.00C556.42 399.57 556.22 400.30 556.30 400.85C556.38 401.40 556.73 402.01 557.20 402.30C557.67 402.59 558.47 402.70 559.10 402.60C559.73 402.50 560.45 402.16 561.00 401.70C561.55 401.24 562.05 400.49 562.40 399.85C562.75 399.21 562.98 398.18 563.10 397.85M563.10 397.60C563.18 397.98 563.28 399.17 563.60 399.85C563.92 400.53 564.39 401.20 565.00 401.70C565.61 402.20 566.88 402.66 567.25 402.85M570.00 396.35C570.01 396.81 569.91 398.24 570.05 399.10C570.19 399.96 570.44 400.92 570.85 401.50C571.26 402.08 571.87 402.47 572.50 402.60C573.13 402.73 573.96 402.68 574.65 402.30C575.34 401.93 576.15 401.09 576.65 400.35C577.15 399.61 577.43 398.52 577.65 397.85C577.87 397.18 577.90 396.60 577.95 396.35M577.95 396.10C577.98 396.68 578.06 398.48 578.15 399.60C578.24 400.73 578.44 402.31 578.50 402.85M588.15 395.45C587.58 395.59 585.82 396.01 584.75 396.30C583.68 396.59 582.25 397.05 581.75 397.20M581.75 397.20C582.50 397.62 584.83 398.83 586.25 399.70C587.67 400.58 589.52 401.78 590.25 402.45C590.98 403.12 590.82 403.39 590.65 403.70C590.48 404.01 590.07 404.23 589.25 404.30C588.43 404.37 586.88 404.24 585.75 404.10C584.62 403.96 583.04 403.56 582.50 403.45M596.00 390.35C596.01 391.23 596.02 393.89 596.05 395.60C596.07 397.31 596.03 399.39 596.15 400.60C596.27 401.81 596.36 402.27 596.75 402.85C597.14 403.43 597.88 404.02 598.50 404.10C599.12 404.18 599.98 403.85 600.50 403.35C601.02 402.85 601.46 401.48 601.65 401.10M591.50 395.10C592.29 394.98 594.56 394.62 596.25 394.35C597.94 394.08 600.75 393.64 601.65 393.50M605.60 398.90C605.63 399.23 605.72 400.17 605.80 400.85C605.88 401.53 606.01 402.64 606.05 403.00M616.75 396.50C616.25 396.53 614.62 396.43 613.75 396.70C612.88 396.97 612.07 397.53 611.50 398.10C610.93 398.67 610.43 399.48 610.35 400.10C610.27 400.73 610.52 401.41 611.00 401.85C611.48 402.29 612.38 402.67 613.25 402.75C614.12 402.83 615.42 402.67 616.25 402.35C617.08 402.03 617.81 401.43 618.25 400.85C618.69 400.27 618.94 399.48 618.90 398.85C618.86 398.23 618.48 397.50 618.00 397.10C617.52 396.70 616.33 396.56 616.00 396.45M621.00 397.50C620.98 397.93 620.93 399.23 620.90 400.10C620.87 400.97 620.82 402.27 620.80 402.70M620.90 401.20C621.07 400.85 621.47 399.70 621.90 399.10C622.33 398.50 622.92 397.95 623.50 397.60C624.08 397.25 624.90 396.92 625.40 397.00C625.90 397.08 626.23 397.54 626.50 398.10C626.77 398.66 626.83 399.58 627.00 400.35C627.17 401.12 627.42 402.31 627.50 402.70M652.60 401.30C652.25 401.46 651.52 401.97 650.50 402.25C649.48 402.53 647.71 402.92 646.50 403.00C645.29 403.08 644.00 403.02 643.25 402.75C642.50 402.48 642.06 402.11 642.00 401.40C641.94 400.69 642.42 399.47 642.90 398.50C643.38 397.53 644.53 396.68 644.90 395.60C645.27 394.52 644.98 393.10 645.10 392.00C645.22 390.90 645.33 389.62 645.60 389.00C645.88 388.38 646.42 388.17 646.75 388.25C647.08 388.33 647.52 388.71 647.60 389.50C647.68 390.29 647.52 391.96 647.25 393.00C646.98 394.04 646.00 394.83 646.00 395.75C646.00 396.67 646.71 397.50 647.25 398.50C647.79 399.50 648.92 401.21 649.25 401.75" fill="none" stroke="#1e1e1e" stroke-width="2.25" stroke-linecap="round" stroke-linejoin="round"/>
<path d="M426.50 416.50C425.67 416.71 423.07 417.17 421.50 417.75C419.93 418.33 417.83 419.62 417.10 420.00M417.10 420.00C417.83 420.42 420.06 421.67 421.50 422.50C422.94 423.33 424.92 424.33 425.75 425.00C426.58 425.67 426.62 426.04 426.50 426.50C426.38 426.96 426.00 427.46 425.00 427.75C424.00 428.04 422.00 428.33 420.50 428.25C419.00 428.17 416.75 427.42 416.00 427.25M432.00 416.50C432.01 417.38 432.03 420.04 432.05 421.75C432.07 423.46 432.03 425.54 432.15 426.75C432.27 427.96 432.36 428.42 432.75 429.00C433.14 429.58 433.88 430.17 434.50 430.25C435.12 430.33 435.98 430.00 436.50 429.50C437.02 429.00 437.46 427.62 437.65 427.25M427.50 421.25C428.29 421.12 430.56 420.77 432.25 420.50C433.94 420.23 436.75 419.79 437.65 419.65M447.75 422.65C447.25 422.68 445.62 422.58 444.75 422.85C443.88 423.12 443.07 423.68 442.50 424.25C441.93 424.82 441.43 425.62 441.35 426.25C441.27 426.88 441.52 427.56 442.00 428.00C442.48 428.44 443.38 428.82 444.25 428.90C445.12 428.98 446.42 428.82 447.25 428.50C448.08 428.18 448.81 427.58 449.25 427.00C449.69 426.42 449.94 425.62 449.90 425.00C449.86 424.38 449.48 423.65 449.00 423.25C448.52 422.85 447.33 422.71 447.00 422.60M453.45 423.85C453.37 424.52 453.06 426.52 452.95 427.85C452.84 429.18 452.74 430.33 452.80 431.85C452.86 433.37 453.22 436.10 453.30 436.95M453.15 426.25C453.38 425.83 453.86 424.27 454.55 423.75C455.24 423.23 456.48 422.96 457.30 423.10C458.12 423.24 459.02 423.93 459.45 424.60C459.88 425.27 460.04 426.36 459.85 427.10C459.66 427.84 459.02 428.68 458.30 429.05C457.58 429.43 456.36 429.48 455.55 429.35C454.74 429.22 453.80 428.43 453.45 428.25M463.00 418.00C463.67 417.92 465.58 417.62 467.00 417.50C468.42 417.38 470.75 417.29 471.50 417.25M467.00 417.60C466.96 418.50 466.83 421.14 466.75 423.00C466.67 424.86 466.54 427.79 466.50 428.75M462.25 429.25C462.96 429.17 465.00 428.92 466.50 428.75C468.00 428.58 470.46 428.33 471.25 428.25M477.25 416.50C477.26 417.38 477.28 420.04 477.30 421.75C477.32 423.46 477.28 425.54 477.40 426.75C477.52 427.96 477.61 428.42 478.00 429.00C478.39 429.58 479.12 430.17 479.75 430.25C480.38 430.33 481.23 430.00 481.75 429.50C482.27 429.00 482.71 427.62 482.90 427.25M472.75 421.25C473.54 421.12 475.81 420.77 477.50 420.50C479.19 420.23 482.00 419.79 482.90 419.65M487.50 426.75C488.04 426.62 489.68 426.35 490.75 426.00C491.82 425.65 493.44 425.12 493.90 424.65C494.36 424.17 493.86 423.57 493.50 423.15C493.14 422.73 492.46 422.23 491.75 422.15C491.04 422.07 489.96 422.26 489.25 422.65C488.54 423.04 487.89 423.77 487.50 424.50C487.11 425.23 486.90 426.17 486.90 427.00C486.90 427.83 487.07 428.82 487.50 429.50C487.93 430.18 488.67 430.76 489.50 431.05C490.33 431.34 491.48 431.37 492.50 431.25C493.52 431.13 495.08 430.50 495.60 430.35M498.00 422.85C498.02 423.42 498.11 425.18 498.15 426.25C498.19 427.32 498.23 428.75 498.25 429.25M498.25 426.15C498.42 425.75 498.81 424.38 499.25 423.75C499.69 423.12 500.28 422.64 500.90 422.35C501.53 422.06 502.42 421.98 503.00 422.00C503.58 422.02 504.07 422.25 504.40 422.50C504.73 422.75 504.90 423.33 505.00 423.50M513.50 423.75C513.14 423.62 512.09 423.03 511.35 423.00C510.61 422.97 509.69 423.19 509.05 423.55C508.41 423.91 507.83 424.57 507.50 425.15C507.17 425.72 506.98 426.45 507.05 427.00C507.12 427.55 507.48 428.16 507.95 428.45C508.42 428.74 509.22 428.85 509.85 428.75C510.48 428.65 511.20 428.31 511.75 427.85C512.30 427.39 512.80 426.64 513.15 426.00C513.50 425.36 513.73 424.33 513.85 424.00M513.85 423.75C513.93 424.12 514.03 425.32 514.35 426.00C514.67 426.68 515.14 427.35 515.75 427.85C516.36 428.35 517.62 428.81 518.00 429.00M523.50 416.50C523.51 417.38 523.52 420.04 523.55 421.75C523.57 423.46 523.53 425.54 523.65 426.75C523.77 427.96 523.86 428.42 524.25 429.00C524.64 429.58 525.38 430.17 526.00 430.25C526.62 430.33 527.48 430.00 528.00 429.50C528.52 429.00 528.96 427.62 529.15 427.25M519.00 421.25C519.79 421.12 522.06 420.77 523.75 420.50C525.44 420.23 528.25 419.79 529.15 419.65M533.10 425.05C533.13 425.38 533.22 426.32 533.30 427.00C533.38 427.68 533.51 428.79 533.55 429.15M543.75 422.65C543.25 422.68 541.62 422.58 540.75 422.85C539.88 423.12 539.07 423.68 538.50 424.25C537.93 424.82 537.43 425.62 537.35 426.25C537.27 426.88 537.52 427.56 538.00 428.00C538.48 428.44 539.38 428.82 540.25 428.90C541.12 428.98 542.42 428.82 543.25 428.50C544.08 428.18 544.81 427.58 545.25 427.00C545.69 426.42 545.94 425.62 545.90 425.00C545.86 424.38 545.48 423.65 545.00 423.25C544.52 422.85 543.33 422.71 543.00 422.60M548.50 423.65C548.48 424.08 548.43 425.38 548.40 426.25C548.37 427.12 548.32 428.42 548.30 428.85M548.40 427.35C548.57 427.00 548.97 425.85 549.40 425.25C549.83 424.65 550.42 424.10 551.00 423.75C551.58 423.40 552.40 423.07 552.90 423.15C553.40 423.23 553.73 423.69 554.00 424.25C554.27 424.81 554.33 425.73 554.50 426.50C554.67 427.27 554.92 428.46 555.00 428.85M579.00 426.75C579.54 426.62 581.18 426.35 582.25 426.00C583.32 425.65 584.94 425.12 585.40 424.65C585.86 424.17 585.36 423.57 585.00 423.15C584.64 422.73 583.96 422.23 583.25 422.15C582.54 422.07 581.46 422.26 580.75 422.65C580.04 423.04 579.39 423.77 579.00 424.50C578.61 425.23 578.40 426.17 578.40 427.00C578.40 427.83 578.57 428.82 579.00 429.50C579.43 430.18 580.17 430.76 581.00 431.05C581.83 431.34 582.98 431.37 584.00 431.25C585.02 431.13 586.58 430.50 587.10 430.35M591.00 422.85C591.54 423.39 593.21 425.02 594.25 426.10C595.29 427.18 596.75 428.81 597.25 429.35M600.50 422.60C599.54 423.23 596.62 425.06 594.75 426.35C592.88 427.64 590.17 429.68 589.25 430.35M606.90 423.50C606.57 423.39 605.59 422.83 604.90 422.85C604.21 422.88 603.32 423.15 602.75 423.65C602.18 424.15 601.62 425.08 601.50 425.85C601.38 426.62 601.57 427.62 602.00 428.25C602.43 428.88 603.31 429.38 604.10 429.65C604.89 429.92 605.93 429.90 606.75 429.90C607.57 429.90 608.62 429.69 609.00 429.65M613.00 426.75C613.54 426.62 615.18 426.35 616.25 426.00C617.32 425.65 618.94 425.12 619.40 424.65C619.86 424.17 619.36 423.57 619.00 423.15C618.64 422.73 617.96 422.23 617.25 422.15C616.54 422.07 615.46 422.26 614.75 422.65C614.04 423.04 613.39 423.77 613.00 424.50C612.61 425.23 612.40 426.17 612.40 427.00C612.40 427.83 612.57 428.82 613.00 429.50C613.43 430.18 614.17 430.76 615.00 431.05C615.83 431.34 616.98 431.37 618.00 431.25C619.02 431.13 620.58 430.50 621.10 430.35M623.40 423.85C623.32 424.52 623.01 426.52 622.90 427.85C622.79 429.18 622.69 430.33 622.75 431.85C622.81 433.37 623.17 436.10 623.25 436.95M623.10 426.25C623.33 425.83 623.81 424.27 624.50 423.75C625.19 423.23 626.43 422.96 627.25 423.10C628.07 423.24 628.98 423.93 629.40 424.60C629.82 425.27 629.99 426.36 629.80 427.10C629.61 427.84 628.97 428.68 628.25 429.05C627.53 429.43 626.31 429.48 625.50 429.35C624.69 429.22 623.75 428.43 623.40 428.25M636.25 416.50C636.26 417.38 636.27 420.04 636.30 421.75C636.32 423.46 636.28 425.54 636.40 426.75C636.52 427.96 636.61 428.42 637.00 429.00C637.39 429.58 638.12 430.17 638.75 430.25C639.38 430.33 640.23 430.00 640.75 429.50C641.27 429.00 641.71 427.62 641.90 427.25M631.75 421.25C632.54 421.12 634.81 420.77 636.50 420.50C638.19 420.23 641.00 419.79 641.90 419.65M645.85 425.05C645.88 425.38 645.97 426.32 646.05 427.00C646.12 427.68 646.26 428.79 646.30 429.15M656.75 422.65C656.25 422.68 654.62 422.58 653.75 422.85C652.88 423.12 652.07 423.68 651.50 424.25C650.93 424.82 650.43 425.62 650.35 426.25C650.27 426.88 650.52 427.56 651.00 428.00C651.48 428.44 652.38 428.82 653.25 428.90C654.12 428.98 655.42 428.82 656.25 428.50C657.08 428.18 657.81 427.58 658.25 427.00C658.69 426.42 658.94 425.62 658.90 425.00C658.86 424.38 658.48 423.65 658.00 423.25C657.52 422.85 656.33 422.71 656.00 422.60M661.50 423.65C661.48 424.08 661.43 425.38 661.40 426.25C661.37 427.12 661.32 428.42 661.30 428.85M661.40 427.35C661.57 427.00 661.97 425.85 662.40 425.25C662.83 424.65 663.42 424.10 664.00 423.75C664.58 423.40 665.40 423.07 665.90 423.15C666.40 423.23 666.73 423.69 667.00 424.25C667.27 424.81 667.33 425.73 667.50 426.50C667.67 427.27 667.92 428.46 668.00 428.85" fill="none" stroke="#1e1e1e" stroke-width="2.25" stroke-linecap="round" stroke-linejoin="round"/>
<path d="M429.50 80.90C429.46 81.82 429.33 84.57 429.25 86.40C429.17 88.23 429.04 90.98 429.00 91.90M436.90 79.90C436.79 81.07 436.44 84.65 436.25 86.90C436.06 89.15 435.83 92.32 435.75 93.40M428.50 88.40C429.17 88.25 431.17 87.79 432.50 87.50C433.83 87.21 435.83 86.79 436.50 86.65M440.75 89.50C441.29 89.38 442.93 89.10 444.00 88.75C445.07 88.40 446.69 87.88 447.15 87.40C447.61 86.93 447.11 86.32 446.75 85.90C446.39 85.48 445.71 84.98 445.00 84.90C444.29 84.82 443.21 85.01 442.50 85.40C441.79 85.79 441.14 86.53 440.75 87.25C440.36 87.97 440.15 88.92 440.15 89.75C440.15 90.58 440.32 91.58 440.75 92.25C441.18 92.92 441.92 93.51 442.75 93.80C443.58 94.09 444.73 94.12 445.75 94.00C446.77 93.88 448.33 93.25 448.85 93.10M451.75 85.60C451.77 86.17 451.86 87.93 451.90 89.00C451.94 90.07 451.98 91.50 452.00 92.00M452.00 88.90C452.17 88.50 452.56 87.13 453.00 86.50C453.44 85.87 454.03 85.39 454.65 85.10C455.28 84.81 456.17 84.72 456.75 84.75C457.33 84.78 457.82 85.00 458.15 85.25C458.48 85.50 458.65 86.08 458.75 86.25M461.50 89.50C462.04 89.38 463.68 89.10 464.75 88.75C465.82 88.40 467.44 87.88 467.90 87.40C468.36 86.93 467.86 86.32 467.50 85.90C467.14 85.48 466.46 84.98 465.75 84.90C465.04 84.82 463.96 85.01 463.25 85.40C462.54 85.79 461.89 86.53 461.50 87.25C461.11 87.97 460.90 88.92 460.90 89.75C460.90 90.58 461.07 91.58 461.50 92.25C461.93 92.92 462.67 93.51 463.50 93.80C464.33 94.09 465.48 94.12 466.50 94.00C467.52 93.88 469.08 93.25 469.60 93.10M483.15 84.35C482.58 84.49 480.82 84.91 479.75 85.20C478.68 85.49 477.25 85.95 476.75 86.10M476.75 86.10C477.50 86.52 479.83 87.72 481.25 88.60C482.67 89.47 484.52 90.68 485.25 91.35C485.98 92.02 485.82 92.29 485.65 92.60C485.48 92.91 485.07 93.13 484.25 93.20C483.43 93.27 481.88 93.14 480.75 93.00C479.62 92.86 478.04 92.46 477.50 92.35M498.75 85.70C498.77 86.24 498.70 87.84 498.85 88.95C499.00 90.06 499.52 91.78 499.65 92.35M499.65 92.35C499.96 92.16 500.88 91.71 501.50 91.20C502.12 90.69 503.04 89.62 503.35 89.30M503.35 89.30C503.46 89.53 503.73 90.24 504.00 90.70C504.27 91.16 504.83 91.83 505.00 92.05M505.00 92.05C505.50 91.45 506.98 89.73 508.00 88.45C509.02 87.17 510.62 85.03 511.15 84.35M511.50 81.05C511.52 82.03 511.55 85.09 511.60 86.95C511.65 88.81 511.77 91.33 511.80 92.20M511.80 90.55C512.07 90.13 512.77 88.63 513.40 88.05C514.03 87.47 514.92 87.11 515.60 87.05C516.28 86.99 516.98 87.23 517.50 87.70C518.02 88.17 518.35 89.07 518.70 89.85C519.05 90.62 519.45 91.93 519.60 92.35M529.00 86.50C528.64 86.38 527.59 85.78 526.85 85.75C526.11 85.72 525.19 85.94 524.55 86.30C523.91 86.66 523.33 87.33 523.00 87.90C522.67 88.48 522.47 89.20 522.55 89.75C522.62 90.30 522.98 90.91 523.45 91.20C523.92 91.49 524.72 91.60 525.35 91.50C525.98 91.40 526.70 91.06 527.25 90.60C527.80 90.14 528.30 89.39 528.65 88.75C529.00 88.11 529.23 87.08 529.35 86.75M529.35 86.50C529.43 86.88 529.53 88.07 529.85 88.75C530.17 89.43 530.64 90.10 531.25 90.60C531.86 91.10 533.12 91.56 533.50 91.75M539.25 79.25C539.26 80.12 539.27 82.79 539.30 84.50C539.32 86.21 539.28 88.29 539.40 89.50C539.52 90.71 539.61 91.17 540.00 91.75C540.39 92.33 541.12 92.92 541.75 93.00C542.38 93.08 543.23 92.75 543.75 92.25C544.27 91.75 544.71 90.38 544.90 90.00M534.75 84.00C535.54 83.88 537.81 83.52 539.50 83.25C541.19 82.98 544.00 82.54 544.90 82.40M558.25 85.45C558.23 85.95 557.93 87.53 558.10 88.45C558.27 89.37 558.68 90.38 559.25 90.95C559.82 91.52 560.79 91.85 561.50 91.85C562.21 91.85 563.17 91.10 563.50 90.95M565.85 85.45C565.64 86.12 565.03 88.20 564.60 89.45C564.17 90.70 563.89 91.41 563.25 92.95C562.61 94.49 561.17 97.74 560.75 98.70M575.75 85.40C575.25 85.43 573.62 85.33 572.75 85.60C571.88 85.87 571.07 86.43 570.50 87.00C569.93 87.57 569.43 88.38 569.35 89.00C569.27 89.62 569.52 90.31 570.00 90.75C570.48 91.19 571.38 91.57 572.25 91.65C573.12 91.73 574.42 91.57 575.25 91.25C576.08 90.93 576.81 90.33 577.25 89.75C577.69 89.17 577.94 88.38 577.90 87.75C577.86 87.12 577.48 86.40 577.00 86.00C576.52 85.60 575.33 85.46 575.00 85.35M580.25 85.25C580.26 85.71 580.16 87.14 580.30 88.00C580.44 88.86 580.69 89.82 581.10 90.40C581.51 90.98 582.12 91.37 582.75 91.50C583.38 91.63 584.21 91.58 584.90 91.20C585.59 90.83 586.40 89.99 586.90 89.25C587.40 88.51 587.68 87.42 587.90 86.75C588.12 86.08 588.15 85.50 588.20 85.25M588.20 85.00C588.23 85.58 588.31 87.38 588.40 88.50C588.49 89.62 588.69 91.21 588.75 91.75M602.00 86.40C601.98 86.83 601.93 88.13 601.90 89.00C601.87 89.87 601.82 91.17 601.80 91.60M601.90 90.10C602.07 89.75 602.47 88.60 602.90 88.00C603.33 87.40 603.92 86.85 604.50 86.50C605.08 86.15 605.90 85.82 606.40 85.90C606.90 85.98 607.23 86.44 607.50 87.00C607.77 87.56 607.83 88.48 608.00 89.25C608.17 90.02 608.42 91.21 608.50 91.60M612.55 89.50C613.09 89.38 614.73 89.10 615.80 88.75C616.87 88.40 618.49 87.88 618.95 87.40C619.41 86.93 618.91 86.32 618.55 85.90C618.19 85.48 617.51 84.98 616.80 84.90C616.09 84.82 615.01 85.01 614.30 85.40C613.59 85.79 612.94 86.53 612.55 87.25C612.16 87.97 611.95 88.92 611.95 89.75C611.95 90.58 612.12 91.58 612.55 92.25C612.98 92.92 613.72 93.51 614.55 93.80C615.38 94.09 616.53 94.12 617.55 94.00C618.57 93.88 620.13 93.25 620.65 93.10M624.00 89.50C624.54 89.38 626.18 89.10 627.25 88.75C628.32 88.40 629.94 87.88 630.40 87.40C630.86 86.93 630.36 86.32 630.00 85.90C629.64 85.48 628.96 84.98 628.25 84.90C627.54 84.82 626.46 85.01 625.75 85.40C625.04 85.79 624.39 86.53 624.00 87.25C623.61 87.97 623.40 88.92 623.40 89.75C623.40 90.58 623.57 91.58 624.00 92.25C624.43 92.92 625.17 93.51 626.00 93.80C626.83 94.09 627.98 94.12 629.00 94.00C630.02 93.88 631.58 93.25 632.10 93.10M642.95 77.10C642.91 77.97 642.70 80.64 642.70 82.35C642.70 84.06 642.77 85.75 642.95 87.35C643.13 88.95 643.66 91.18 643.80 91.95M642.70 86.25C642.28 86.12 641.12 85.45 640.20 85.45C639.28 85.45 638.02 85.72 637.20 86.25C636.38 86.78 635.68 87.82 635.30 88.60C634.92 89.38 634.75 90.38 634.90 90.95C635.05 91.53 635.57 91.97 636.20 92.05C636.83 92.13 637.88 91.94 638.70 91.45C639.52 90.96 640.41 90.02 641.10 89.10C641.79 88.18 642.56 86.47 642.85 85.95" fill="none" stroke="#1e1e1e" stroke-width="2.25" stroke-linecap="round" stroke-linejoin="round"/>
<path d="M431.00 105.55C431.01 106.42 431.03 109.09 431.05 110.80C431.07 112.51 431.03 114.59 431.15 115.80C431.27 117.01 431.36 117.47 431.75 118.05C432.14 118.63 432.88 119.22 433.50 119.30C434.12 119.38 434.98 119.05 435.50 118.55C436.02 118.05 436.46 116.67 436.65 116.30M426.50 110.30C427.29 110.17 429.56 109.82 431.25 109.55C432.94 109.28 435.75 108.84 436.65 108.70M446.50 111.70C446.00 111.73 444.38 111.63 443.50 111.90C442.62 112.17 441.82 112.73 441.25 113.30C440.68 113.87 440.18 114.67 440.10 115.30C440.02 115.92 440.27 116.61 440.75 117.05C441.23 117.49 442.12 117.87 443.00 117.95C443.88 118.03 445.17 117.87 446.00 117.55C446.83 117.23 447.56 116.63 448.00 116.05C448.44 115.47 448.69 114.67 448.65 114.05C448.61 113.42 448.23 112.70 447.75 112.30C447.27 111.90 446.08 111.76 445.75 111.65M462.00 106.50C461.98 107.50 461.92 110.52 461.85 112.50C461.78 114.48 461.64 117.42 461.60 118.40M469.50 110.75C468.92 111.14 467.12 112.31 466.00 113.10C464.88 113.89 463.29 115.10 462.75 115.50M463.50 114.75C463.96 115.08 465.38 116.08 466.25 116.75C467.12 117.42 468.33 118.42 468.75 118.75M472.00 112.70C471.98 113.13 471.93 114.43 471.90 115.30C471.87 116.17 471.82 117.47 471.80 117.90M471.90 116.40C472.07 116.05 472.47 114.90 472.90 114.30C473.33 113.70 473.92 113.15 474.50 112.80C475.08 112.45 475.90 112.12 476.40 112.20C476.90 112.28 477.23 112.74 477.50 113.30C477.77 113.86 477.83 114.78 478.00 115.55C478.17 116.32 478.42 117.51 478.50 117.90M490.00 111.70C489.50 111.73 487.88 111.63 487.00 111.90C486.12 112.17 485.32 112.73 484.75 113.30C484.18 113.87 483.68 114.67 483.60 115.30C483.52 115.92 483.77 116.61 484.25 117.05C484.73 117.49 485.62 117.87 486.50 117.95C487.38 118.03 488.67 117.87 489.50 117.55C490.33 117.23 491.06 116.63 491.50 116.05C491.94 115.47 492.19 114.67 492.15 114.05C492.11 113.42 491.73 112.70 491.25 112.30C490.77 111.90 489.58 111.76 489.25 111.65M493.75 112.00C493.77 112.54 493.70 114.14 493.85 115.25C494.00 116.36 494.52 118.08 494.65 118.65M494.65 118.65C494.96 118.46 495.88 118.01 496.50 117.50C497.12 116.99 498.04 115.92 498.35 115.60M498.35 115.60C498.46 115.83 498.73 116.54 499.00 117.00C499.27 117.46 499.83 118.12 500.00 118.35M500.00 118.35C500.50 117.75 501.98 116.03 503.00 114.75C504.02 113.47 505.62 111.33 506.15 110.65M508.00 117.85L508.50 118.15" fill="none" stroke="#1e1e1e" stroke-width="2.25" stroke-linecap="round" stroke-linejoin="round"/>
<path d="M49.75 370.35C49.81 371.27 49.93 374.10 50.10 375.85C50.27 377.60 50.64 380.02 50.75 380.85M50.75 380.85C51.12 380.23 52.27 378.23 53.00 377.10C53.73 375.98 54.75 374.60 55.10 374.10M55.10 374.10C55.21 374.68 55.48 376.46 55.75 377.60C56.02 378.74 56.58 380.39 56.75 380.95M56.75 380.95C57.25 379.89 58.79 376.62 59.75 374.60C60.71 372.58 62.04 369.81 62.50 368.85M72.00 374.40C71.50 374.43 69.88 374.33 69.00 374.60C68.12 374.87 67.32 375.43 66.75 376.00C66.18 376.57 65.68 377.38 65.60 378.00C65.52 378.62 65.77 379.31 66.25 379.75C66.73 380.19 67.62 380.57 68.50 380.65C69.38 380.73 70.67 380.57 71.50 380.25C72.33 379.93 73.06 379.33 73.50 378.75C73.94 378.17 74.19 377.38 74.15 376.75C74.11 376.12 73.73 375.40 73.25 375.00C72.77 374.60 71.58 374.46 71.25 374.35M76.90 374.60C76.93 375.17 77.01 376.93 77.05 378.00C77.09 379.07 77.13 380.50 77.15 381.00M77.15 377.90C77.32 377.50 77.71 376.13 78.15 375.50C78.59 374.87 79.17 374.39 79.80 374.10C80.42 373.81 81.32 373.73 81.90 373.75C82.48 373.77 82.97 374.00 83.30 374.25C83.63 374.50 83.80 375.08 83.90 375.25M85.50 369.20C85.47 370.20 85.42 373.22 85.35 375.20C85.28 377.18 85.14 380.12 85.10 381.10M93.00 373.45C92.42 373.84 90.62 375.01 89.50 375.80C88.38 376.59 86.79 377.80 86.25 378.20M87.00 377.45C87.46 377.78 88.88 378.78 89.75 379.45C90.62 380.12 91.83 381.12 92.25 381.45M96.85 376.80C96.88 377.12 96.98 378.07 97.05 378.75C97.13 379.43 97.26 380.54 97.30 380.90M100.50 375.40C100.48 375.83 100.43 377.13 100.40 378.00C100.37 378.87 100.32 380.17 100.30 380.60M100.40 379.10C100.57 378.75 100.97 377.60 101.40 377.00C101.83 376.40 102.42 375.85 103.00 375.50C103.58 375.15 104.40 374.82 104.90 374.90C105.40 374.98 105.73 375.44 106.00 376.00C106.27 376.56 106.33 377.48 106.50 378.25C106.67 379.02 106.92 380.21 107.00 380.60M117.90 376.75C117.61 376.48 116.90 375.48 116.15 375.15C115.40 374.82 114.29 374.57 113.40 374.75C112.51 374.93 111.37 375.62 110.80 376.25C110.23 376.88 109.90 377.83 110.00 378.50C110.10 379.17 110.75 379.94 111.40 380.25C112.05 380.56 113.11 380.56 113.90 380.35C114.69 380.14 115.50 379.58 116.15 379.00C116.80 378.42 117.53 377.21 117.80 376.85M118.00 376.65C117.86 377.42 117.50 379.73 117.15 381.25C116.80 382.77 116.29 384.43 115.90 385.75C115.51 387.07 114.98 388.58 114.80 389.15M114.80 389.15C114.48 388.98 113.59 388.55 112.90 388.15C112.21 387.75 111.03 386.98 110.65 386.75M131.25 374.70C131.27 375.24 131.20 376.84 131.35 377.95C131.50 379.06 132.02 380.78 132.15 381.35M132.15 381.35C132.46 381.16 133.38 380.71 134.00 380.20C134.62 379.69 135.54 378.62 135.85 378.30M135.85 378.30C135.96 378.53 136.22 379.24 136.50 379.70C136.78 380.16 137.33 380.82 137.50 381.05M137.50 381.05C138.00 380.45 139.47 378.73 140.50 377.45C141.53 376.17 143.12 374.03 143.65 373.35M144.85 376.80C144.88 377.12 144.98 378.07 145.05 378.75C145.12 379.43 145.26 380.54 145.30 380.90M151.25 368.25C151.26 369.12 151.28 371.79 151.30 373.50C151.33 375.21 151.28 377.29 151.40 378.50C151.52 379.71 151.61 380.17 152.00 380.75C152.39 381.33 153.12 381.92 153.75 382.00C154.38 382.08 155.22 381.75 155.75 381.25C156.28 380.75 156.71 379.38 156.90 379.00M146.75 373.00C147.54 372.88 149.81 372.52 151.50 372.25C153.19 371.98 156.00 371.54 156.90 371.40M160.25 370.05C160.27 371.03 160.30 374.09 160.35 375.95C160.40 377.81 160.52 380.32 160.55 381.20M160.55 379.55C160.82 379.13 161.52 377.63 162.15 377.05C162.78 376.47 163.67 376.11 164.35 376.05C165.03 375.99 165.73 376.23 166.25 376.70C166.77 377.17 167.10 378.08 167.45 378.85C167.80 379.62 168.20 380.93 168.35 381.35M182.00 368.25C181.96 369.29 181.85 372.36 181.75 374.50C181.65 376.64 181.46 380.00 181.40 381.10M181.25 367.60C182.04 367.83 184.46 368.43 186.00 369.00C187.54 369.57 189.42 370.32 190.50 371.00C191.58 371.68 192.50 372.53 192.50 373.10C192.50 373.67 191.58 374.08 190.50 374.40C189.42 374.72 187.35 374.86 186.00 375.00C184.65 375.14 183.00 375.21 182.40 375.25M194.75 374.45C194.72 374.95 194.43 376.53 194.60 377.45C194.77 378.37 195.18 379.38 195.75 379.95C196.32 380.52 197.29 380.85 198.00 380.85C198.71 380.85 199.67 380.10 200.00 379.95M202.35 374.45C202.14 375.12 201.53 377.20 201.10 378.45C200.67 379.70 200.39 380.41 199.75 381.95C199.11 383.49 197.67 386.74 197.25 387.70M207.60 368.25C207.61 369.12 207.62 371.79 207.65 373.50C207.68 375.21 207.63 377.29 207.75 378.50C207.87 379.71 207.96 380.17 208.35 380.75C208.74 381.33 209.47 381.92 210.10 382.00C210.72 382.08 211.57 381.75 212.10 381.25C212.62 380.75 213.06 379.38 213.25 379.00M203.10 373.00C203.89 372.88 206.16 372.52 207.85 372.25C209.54 371.98 212.35 371.54 213.25 371.40M216.75 370.05C216.77 371.03 216.80 374.09 216.85 375.95C216.90 377.81 217.02 380.32 217.05 381.20M217.05 379.55C217.32 379.13 218.02 377.63 218.65 377.05C219.28 376.47 220.17 376.11 220.85 376.05C221.53 375.99 222.23 376.23 222.75 376.70C223.27 377.17 223.60 378.08 223.95 378.85C224.30 379.62 224.70 380.93 224.85 381.35M234.50 374.40C234.00 374.43 232.38 374.33 231.50 374.60C230.62 374.87 229.82 375.43 229.25 376.00C228.68 376.57 228.18 377.38 228.10 378.00C228.02 378.62 228.27 379.31 228.75 379.75C229.23 380.19 230.12 380.57 231.00 380.65C231.88 380.73 233.17 380.57 234.00 380.25C234.83 379.93 235.56 379.33 236.00 378.75C236.44 378.17 236.69 377.38 236.65 376.75C236.61 376.12 236.23 375.40 235.75 375.00C235.27 374.60 234.08 374.46 233.75 374.35M239.00 375.40C238.98 375.83 238.93 377.13 238.90 378.00C238.87 378.87 238.82 380.17 238.80 380.60M238.90 379.10C239.07 378.75 239.47 377.60 239.90 377.00C240.33 376.40 240.92 375.85 241.50 375.50C242.08 375.15 242.90 374.82 243.40 374.90C243.90 374.98 244.23 375.44 244.50 376.00C244.77 376.56 244.83 377.48 245.00 378.25C245.17 379.02 245.42 380.21 245.50 380.60" fill="none" stroke="#1e1e1e" stroke-width="2.25" stroke-linecap="round" stroke-linejoin="round"/>
<path d="M61.90 401.45C61.61 401.18 60.90 400.18 60.15 399.85C59.40 399.52 58.29 399.27 57.40 399.45C56.51 399.63 55.37 400.32 54.80 400.95C54.23 401.57 53.90 402.53 54.00 403.20C54.10 403.87 54.75 404.64 55.40 404.95C56.05 405.26 57.11 405.26 57.90 405.05C58.69 404.84 59.50 404.28 60.15 403.70C60.80 403.12 61.52 401.91 61.80 401.55M62.00 401.35C61.86 402.12 61.50 404.43 61.15 405.95C60.80 407.47 60.29 409.13 59.90 410.45C59.51 411.77 58.98 413.28 58.80 413.85M58.80 413.85C58.48 413.68 57.59 413.25 56.90 412.85C56.21 412.45 55.02 411.68 54.65 411.45M65.85 403.20C66.39 403.07 68.03 402.80 69.10 402.45C70.17 402.10 71.79 401.57 72.25 401.10C72.71 400.62 72.21 400.02 71.85 399.60C71.49 399.18 70.81 398.68 70.10 398.60C69.39 398.52 68.31 398.71 67.60 399.10C66.89 399.49 66.24 400.22 65.85 400.95C65.46 401.68 65.25 402.62 65.25 403.45C65.25 404.28 65.42 405.27 65.85 405.95C66.28 406.62 67.02 407.21 67.85 407.50C68.68 407.79 69.83 407.82 70.85 407.70C71.87 407.58 73.43 406.95 73.95 406.80M76.15 400.10C76.13 400.53 76.08 401.83 76.05 402.70C76.02 403.57 75.97 404.87 75.95 405.30M76.05 403.80C76.22 403.45 76.62 402.30 77.05 401.70C77.48 401.10 78.07 400.55 78.65 400.20C79.23 399.85 80.05 399.52 80.55 399.60C81.05 399.68 81.38 400.14 81.65 400.70C81.92 401.26 81.98 402.18 82.15 402.95C82.32 403.72 82.57 404.91 82.65 405.30M87.05 403.20C87.59 403.07 89.23 402.80 90.30 402.45C91.37 402.10 92.99 401.57 93.45 401.10C93.91 400.62 93.41 400.02 93.05 399.60C92.69 399.18 92.01 398.68 91.30 398.60C90.59 398.52 89.51 398.71 88.80 399.10C88.09 399.49 87.44 400.22 87.05 400.95C86.66 401.68 86.45 402.62 86.45 403.45C86.45 404.28 86.62 405.27 87.05 405.95C87.48 406.62 88.22 407.21 89.05 407.50C89.88 407.79 91.03 407.82 92.05 407.70C93.07 407.58 94.63 406.95 95.15 406.80M97.75 399.30C97.78 399.87 97.86 401.63 97.90 402.70C97.94 403.77 97.98 405.20 98.00 405.70M98.00 402.60C98.17 402.20 98.56 400.83 99.00 400.20C99.44 399.57 100.02 399.09 100.65 398.80C101.27 398.51 102.17 398.43 102.75 398.45C103.33 398.47 103.82 398.70 104.15 398.95C104.48 399.20 104.65 399.78 104.75 399.95M112.85 400.20C112.49 400.07 111.44 399.48 110.70 399.45C109.96 399.42 109.04 399.64 108.40 400.00C107.76 400.36 107.18 401.02 106.85 401.60C106.52 402.17 106.32 402.90 106.40 403.45C106.47 404.00 106.83 404.61 107.30 404.90C107.77 405.19 108.57 405.30 109.20 405.20C109.83 405.10 110.55 404.76 111.10 404.30C111.65 403.84 112.15 403.09 112.50 402.45C112.85 401.81 113.08 400.78 113.20 400.45M113.20 400.20C113.28 400.57 113.38 401.77 113.70 402.45C114.02 403.13 114.49 403.80 115.10 404.30C115.71 404.80 116.97 405.26 117.35 405.45M123.25 392.95C123.26 393.82 123.27 396.49 123.30 398.20C123.33 399.91 123.28 401.99 123.40 403.20C123.52 404.41 123.61 404.87 124.00 405.45C124.39 406.03 125.12 406.62 125.75 406.70C126.38 406.78 127.22 406.45 127.75 405.95C128.28 405.45 128.71 404.07 128.90 403.70M118.75 397.70C119.54 397.57 121.81 397.22 123.50 396.95C125.19 396.68 128.00 396.24 128.90 396.10M138.85 399.10C138.35 399.13 136.72 399.03 135.85 399.30C134.97 399.57 134.17 400.13 133.60 400.70C133.03 401.27 132.53 402.07 132.45 402.70C132.37 403.32 132.62 404.01 133.10 404.45C133.58 404.89 134.47 405.27 135.35 405.35C136.22 405.43 137.52 405.27 138.35 404.95C139.18 404.63 139.91 404.03 140.35 403.45C140.79 402.87 141.04 402.07 141.00 401.45C140.96 400.82 140.58 400.10 140.10 399.70C139.62 399.30 138.43 399.16 138.10 399.05M143.50 399.30C143.53 399.87 143.61 401.63 143.65 402.70C143.69 403.77 143.73 405.20 143.75 405.70M143.75 402.60C143.92 402.20 144.31 400.83 144.75 400.20C145.19 399.57 145.78 399.09 146.40 398.80C147.03 398.51 147.92 398.43 148.50 398.45C149.08 398.47 149.57 398.70 149.90 398.95C150.23 399.20 150.40 399.78 150.50 399.95M158.90 398.05C158.33 398.19 156.57 398.61 155.50 398.90C154.43 399.19 153.00 399.65 152.50 399.80M152.50 399.80C153.25 400.22 155.58 401.43 157.00 402.30C158.42 403.18 160.27 404.38 161.00 405.05C161.73 405.72 161.57 405.99 161.40 406.30C161.23 406.61 160.82 406.83 160.00 406.90C159.18 406.97 157.62 406.84 156.50 406.70C155.38 406.56 153.79 406.16 153.25 406.05M163.10 394.10C163.58 393.93 164.97 393.20 166.00 393.10C167.03 393.00 168.46 393.14 169.25 393.50C170.04 393.86 170.62 394.58 170.75 395.25C170.88 395.92 170.54 396.83 170.00 397.50C169.46 398.17 168.21 398.68 167.50 399.25C166.79 399.82 166.04 400.62 165.75 400.90M166.60 404.45L166.90 404.75" fill="none" stroke="#1e1e1e" stroke-width="2.25" stroke-linecap="round" stroke-linejoin="round"/>
<path d="M233.05 39.20L234.20 39.95M97.80 65.45L98.95 66.20M111.70 65.45L112.85 66.20M127.70 65.45L128.85 66.20M239.55 126.95L240.70 127.70M300.80 217.60L301.95 218.35M242.05 243.70L243.20 244.45M298.30 243.70L299.45 244.45M394.90 321.40L396.05 322.15M604.80 392.80L605.95 393.55M532.30 418.95L533.45 419.70M645.05 418.95L646.20 419.70M96.05 370.70L97.20 371.45M144.05 370.70L145.20 371.45" fill="none" stroke="#1e1e1e" stroke-width="1.50" stroke-linecap="round" stroke-linejoin="round"/>
<path d="M280.60 240.80C280.96 241.00 282.03 241.59 282.75 242.00C283.47 242.41 284.54 243.04 284.90 243.25M332.85 240.80C333.21 241.00 334.28 241.59 335.00 242.00C335.72 242.41 336.79 243.04 337.15 243.25M408.35 416.05C408.71 416.25 409.78 416.84 410.50 417.25C411.22 417.66 412.29 418.29 412.65 418.50M559.35 416.05C559.71 416.25 560.78 416.84 561.50 417.25C562.22 417.66 563.29 418.29 563.65 418.50" fill="none" stroke="#1e1e1e" stroke-width="1.80" stroke-linecap="round" stroke-linejoin="round"/>
<path d="M473.85 80.60C473.78 80.98 473.53 82.18 473.40 82.90C473.27 83.62 473.11 84.57 473.05 84.90" fill="none" stroke="#1e1e1e" stroke-width="1.90" stroke-linecap="round" stroke-linejoin="round"/>
</svg>
</body></html>
